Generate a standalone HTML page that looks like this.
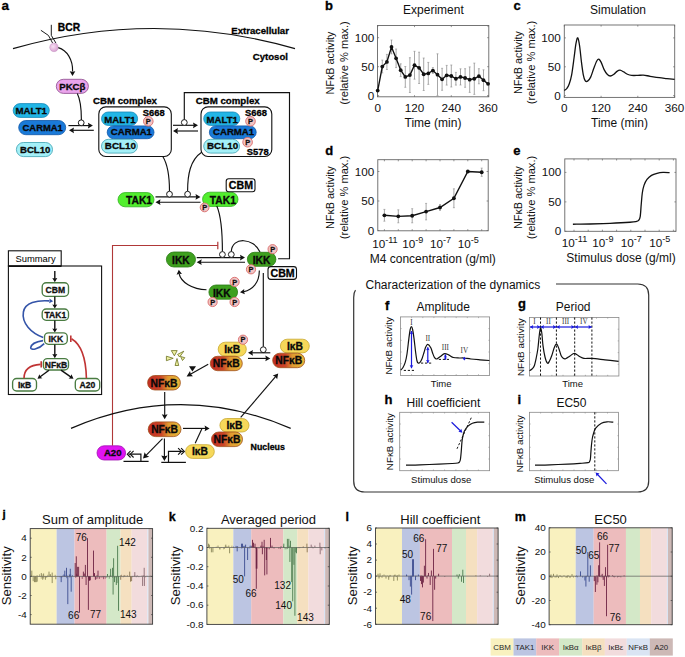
<!DOCTYPE html><html><head><meta charset="utf-8"><style>html,body{margin:0;padding:0;background:#fff;}svg{display:block;}</style></head><body><svg width="685" height="657" viewBox="0 0 685 657">
<defs>
<linearGradient id="nfkb" x1="0" x2="1" y1="0" y2="0">
<stop offset="0" stop-color="#c22c24"/><stop offset="0.4" stop-color="#cc4628"/><stop offset="0.62" stop-color="#de9a30"/><stop offset="1" stop-color="#e8b83a"/></linearGradient>
<radialGradient id="pk" cx="0.4" cy="0.4" r="0.6"><stop offset="0" stop-color="#f8e0f4"/><stop offset="1" stop-color="#d8a0d0"/></radialGradient>
</defs>
<rect width="685" height="657" fill="#fff"/>
<text x="1.4" y="9.9" font-size="13.5" font-weight="bold" text-anchor="start" fill="#000" font-family='"Liberation Sans", sans-serif'  stroke="#000" stroke-width="0.3">a</text>
<path d="M13,48.6 Q154,8.4 295,48.6" stroke="#111" stroke-width="1.15" fill="none" />
<text x="231.3" y="33.7" font-size="9.6" font-weight="bold" text-anchor="start" fill="#000" font-family='"Liberation Sans", sans-serif'  stroke="#000" stroke-width="0.3">Extracellular</text>
<text x="252.8" y="60.3" font-size="9.6" font-weight="bold" text-anchor="start" fill="#000" font-family='"Liberation Sans", sans-serif'  stroke="#000" stroke-width="0.3">Cytosol</text>
<text x="57.8" y="30.8" font-size="10.3" font-weight="bold" text-anchor="start" fill="#000" font-family='"Liberation Sans", sans-serif'  stroke="#000" stroke-width="0.3">BCR</text>
<path d="M40.9,30.3 L48.4,35.4 L52.6,43.0" stroke="#111" stroke-width="0.95" fill="none" />
<path d="M51.3,24.8 L51.3,35.4 L56.0,43.2" stroke="#111" stroke-width="0.95" fill="none" />
<circle cx="54.0" cy="47.4" r="4.3" fill="url(#pk)" stroke="#c090c0" stroke-width="0.4"/>
<path d="M58.3,47.6 C67,50 73,60 72.6,71.5" stroke="#111" stroke-width="1.15" fill="none" />
<path d="M72.50,76.00 L69.70,71.20 L72.50,71.87 L75.30,71.20 Z" fill="#111"/>
<rect x="56.3" y="79.3" width="32.1" height="14.1" rx="7.1" fill="#eaa4ec" stroke="#8a4a8a" stroke-width="0.8"/>
<text x="72.3" y="89.8" font-size="9.6" font-weight="bold" text-anchor="middle" fill="#080808" font-family='"Liberation Sans", sans-serif'  stroke="#080808" stroke-width="0.3">PKCβ</text>
<rect x="13.2" y="103.6" width="36.1" height="13.8" rx="6.9" fill="#22b6e6" stroke="#1488b8" stroke-width="0.8"/>
<text x="31.2" y="114.3" font-size="9.7" font-weight="bold" text-anchor="middle" fill="#080808" font-family='"Liberation Sans", sans-serif'  stroke="#080808" stroke-width="0.3">MALT1</text>
<rect x="18.7" y="120.5" width="47.0" height="14.2" rx="7.1" fill="#1a7ad8" stroke="#1058a8" stroke-width="0.8"/>
<text x="42.7" y="131.3" font-size="9.45" font-weight="bold" text-anchor="middle" fill="#080808" font-family='"Liberation Sans", sans-serif'  stroke="#080808" stroke-width="0.3">CARMA1</text>
<rect x="16.4" y="142.5" width="36.1" height="14.1" rx="7.0" fill="#a4f0f8" stroke="#3aa0b0" stroke-width="0.8"/>
<text x="35.2" y="153.3" font-size="9.65" font-weight="bold" text-anchor="middle" fill="#080808" font-family='"Liberation Sans", sans-serif'  stroke="#080808" stroke-width="0.3">BCL10</text>
<path d="M77.3,93.6 C80.5,100 81.4,110 81.4,119.9" stroke="#111" stroke-width="1.15" fill="none" />
<line x1="68.4" y1="125.6" x2="89.9" y2="125.6" stroke="#111" stroke-width="1.15" />
<path d="M92.90,125.60 L87.90,128.50 L88.60,125.60 L87.90,122.70 Z" fill="#111"/>
<line x1="93.8" y1="130.3" x2="72.0" y2="130.3" stroke="#111" stroke-width="1.15" />
<path d="M69.00,130.30 L74.00,127.40 L73.30,130.30 L74.00,133.20 Z" fill="#111"/>
<circle cx="81.2" cy="122.8" r="2.9" fill="#fff" stroke="#111" stroke-width="0.95"/>
<text x="92.9" y="103.8" font-size="9.7" font-weight="bold" text-anchor="start" fill="#000" font-family='"Liberation Sans", sans-serif'  stroke="#000" stroke-width="0.3">CBM complex</text>
<text x="195.7" y="103.8" font-size="9.7" font-weight="bold" text-anchor="start" fill="#000" font-family='"Liberation Sans", sans-serif'  stroke="#000" stroke-width="0.3">CBM complex</text>
<rect x="98.8" y="106.9" width="72.5" height="49.6" rx="7" fill="#fff" stroke="#111" stroke-width="1.1"/>
<rect x="101.5" y="112.0" width="36.1" height="13.4" rx="6.7" fill="#22b6e6" stroke="#1488b8" stroke-width="0.8"/>
<text x="120.0" y="122.8" font-size="9.6" font-weight="bold" text-anchor="middle" fill="#080808" font-family='"Liberation Sans", sans-serif'  stroke="#080808" stroke-width="0.3">MALT1</text>
<rect x="107.2" y="125.9" width="46.8" height="12.8" rx="6.4" fill="#1a7ad8" stroke="#1058a8" stroke-width="0.8"/>
<text x="131.4" y="135.1" font-size="9.65" font-weight="bold" text-anchor="middle" fill="#080808" font-family='"Liberation Sans", sans-serif'  stroke="#080808" stroke-width="0.3">CARMA1</text>
<rect x="101.5" y="139.3" width="35.9" height="13.8" rx="6.9" fill="#a4f0f8" stroke="#3aa0b0" stroke-width="0.8"/>
<text x="120.4" y="149.3" font-size="9.9" font-weight="bold" text-anchor="middle" fill="#080808" font-family='"Liberation Sans", sans-serif'  stroke="#080808" stroke-width="0.3">BCL10</text>
<text x="142.8" y="115.9" font-size="9.4" font-weight="bold" text-anchor="start" fill="#000" font-family='"Liberation Sans", sans-serif'  stroke="#000" stroke-width="0.3">S668</text>
<circle cx="148.3" cy="121.3" r="4.8" fill="#f2c4c4" stroke="#d86a6a" stroke-width="0.9"/>
<text x="148.3" y="123.9" font-size="7.4" font-weight="bold" text-anchor="middle" fill="#111" font-family='"Liberation Sans", sans-serif'  stroke="#111" stroke-width="0.3">P</text>
<rect x="201.0" y="106.9" width="70.8" height="49.6" rx="7" fill="#fff" stroke="#111" stroke-width="1.1"/>
<rect x="203.7" y="112.0" width="36.1" height="13.4" rx="6.7" fill="#22b6e6" stroke="#1488b8" stroke-width="0.8"/>
<text x="222.2" y="122.8" font-size="9.6" font-weight="bold" text-anchor="middle" fill="#080808" font-family='"Liberation Sans", sans-serif'  stroke="#080808" stroke-width="0.3">MALT1</text>
<rect x="209.4" y="125.9" width="46.8" height="12.8" rx="6.4" fill="#1a7ad8" stroke="#1058a8" stroke-width="0.8"/>
<text x="233.6" y="135.1" font-size="9.65" font-weight="bold" text-anchor="middle" fill="#080808" font-family='"Liberation Sans", sans-serif'  stroke="#080808" stroke-width="0.3">CARMA1</text>
<rect x="203.7" y="139.3" width="35.9" height="13.8" rx="6.9" fill="#a4f0f8" stroke="#3aa0b0" stroke-width="0.8"/>
<text x="222.6" y="149.3" font-size="9.9" font-weight="bold" text-anchor="middle" fill="#080808" font-family='"Liberation Sans", sans-serif'  stroke="#080808" stroke-width="0.3">BCL10</text>
<text x="245.0" y="115.9" font-size="9.4" font-weight="bold" text-anchor="start" fill="#000" font-family='"Liberation Sans", sans-serif'  stroke="#000" stroke-width="0.3">S668</text>
<circle cx="250.5" cy="121.3" r="4.8" fill="#f2c4c4" stroke="#d86a6a" stroke-width="0.9"/>
<text x="250.5" y="123.9" font-size="7.4" font-weight="bold" text-anchor="middle" fill="#111" font-family='"Liberation Sans", sans-serif'  stroke="#111" stroke-width="0.3">P</text>
<circle cx="247.6" cy="142.2" r="4.8" fill="#f2c4c4" stroke="#d86a6a" stroke-width="0.9"/>
<text x="247.6" y="144.8" font-size="7.4" font-weight="bold" text-anchor="middle" fill="#111" font-family='"Liberation Sans", sans-serif'  stroke="#111" stroke-width="0.3">P</text>
<text x="246.8" y="154.9" font-size="9.4" font-weight="bold" text-anchor="start" fill="#000" font-family='"Liberation Sans", sans-serif'  stroke="#000" stroke-width="0.3">S578</text>
<line x1="173.0" y1="125.3" x2="195.0" y2="125.3" stroke="#111" stroke-width="1.15" />
<path d="M198.00,125.30 L193.00,128.20 L193.70,125.30 L193.00,122.40 Z" fill="#111"/>
<line x1="198.0" y1="131.0" x2="176.0" y2="131.0" stroke="#111" stroke-width="1.15" />
<path d="M173.00,131.00 L178.00,128.10 L177.30,131.00 L178.00,133.90 Z" fill="#111"/>
<path d="M184.3,120 L184.3,92.6 L289.5,92.6 L289.5,258.7 L278.1,258.7" stroke="#111" stroke-width="1.15" fill="none" />
<circle cx="184.3" cy="122.5" r="2.9" fill="#fff" stroke="#111" stroke-width="0.95"/>
<path d="M162.8,156.5 C168,165 169.5,178 169.5,191.2" stroke="#111" stroke-width="1.15" fill="none" />
<path d="M202,152 C190,160 187.6,175 187.6,191.2" stroke="#111" stroke-width="1.15" fill="none" />
<line x1="155.5" y1="196.9" x2="197.5" y2="196.9" stroke="#111" stroke-width="1.15" />
<path d="M200.50,196.90 L195.50,199.80 L196.20,196.90 L195.50,194.00 Z" fill="#111"/>
<line x1="200.5" y1="202.2" x2="158.5" y2="202.2" stroke="#111" stroke-width="1.15" />
<path d="M155.50,202.20 L160.50,199.30 L159.80,202.20 L160.50,205.10 Z" fill="#111"/>
<circle cx="169.5" cy="194.2" r="2.9" fill="#fff" stroke="#111" stroke-width="0.95"/>
<circle cx="187.6" cy="194.2" r="2.9" fill="#fff" stroke="#111" stroke-width="0.95"/>
<rect x="118.0" y="192.6" width="36.0" height="14.2" rx="7.1" fill="#52ee2e" stroke="#30b020" stroke-width="0.8"/>
<text x="139.0" y="204.2" font-size="10.3" font-weight="bold" text-anchor="middle" fill="#080808" font-family='"Liberation Sans", sans-serif'  stroke="#080808" stroke-width="0.3">TAK1</text>
<rect x="202.6" y="192.2" width="35.4" height="14.2" rx="7.1" fill="#52ee2e" stroke="#30b020" stroke-width="0.8"/>
<text x="222.8" y="203.8" font-size="10.3" font-weight="bold" text-anchor="middle" fill="#080808" font-family='"Liberation Sans", sans-serif'  stroke="#080808" stroke-width="0.3">TAK1</text>
<circle cx="204.6" cy="207.4" r="4.4" fill="#f2c4c4" stroke="#d86a6a" stroke-width="0.9"/>
<text x="204.6" y="210.0" font-size="7.4" font-weight="bold" text-anchor="middle" fill="#111" font-family='"Liberation Sans", sans-serif'  stroke="#111" stroke-width="0.3">P</text>
<rect x="226.2" y="178.8" width="28.8" height="13.0" rx="2.5" fill="#fff" stroke="#111" stroke-width="1.1"/>
<text x="240.9" y="189.3" font-size="10.6" font-weight="bold" text-anchor="middle" fill="#000" font-family='"Liberation Sans", sans-serif'  stroke="#000" stroke-width="0.3">CBM</text>
<path d="M216.8,206 C222,218 222.4,235 222.4,251.6" stroke="#111" stroke-width="1.15" fill="none" />
<path d="M112.5,445.8 L112.5,245.5 L217.8,245.5" stroke="#b03838" stroke-width="1.1" fill="none" />
<line x1="217.8" y1="241.8" x2="217.8" y2="249.2" stroke="#b03838" stroke-width="1.2" />
<line x1="196.7" y1="257.6" x2="242.0" y2="257.6" stroke="#111" stroke-width="1.15" />
<path d="M245.00,257.60 L240.00,260.50 L240.70,257.60 L240.00,254.70 Z" fill="#111"/>
<line x1="245.0" y1="262.2" x2="199.7" y2="262.2" stroke="#111" stroke-width="1.15" />
<path d="M196.70,262.20 L201.70,259.30 L201.00,262.20 L201.70,265.10 Z" fill="#111"/>
<path d="M260,252 C254,238 232,236 231.3,251.6" stroke="#111" stroke-width="1.15" fill="none" />
<circle cx="222.4" cy="254.5" r="2.9" fill="#fff" stroke="#111" stroke-width="0.95"/>
<circle cx="231.3" cy="254.5" r="2.9" fill="#fff" stroke="#111" stroke-width="0.95"/>
<rect x="166.4" y="252.0" width="29.1" height="15.0" rx="7.5" fill="#3ea01e" stroke="#2a7a14" stroke-width="0.8"/>
<text x="180.9" y="264.0" font-size="10.3" font-weight="bold" text-anchor="middle" fill="#080808" font-family='"Liberation Sans", sans-serif'  stroke="#080808" stroke-width="0.3">IKK</text>
<rect x="247.4" y="252.3" width="28.5" height="14.0" rx="7.0" fill="#3ea01e" stroke="#2a7a14" stroke-width="0.8"/>
<text x="261.6" y="263.8" font-size="10.3" font-weight="bold" text-anchor="middle" fill="#080808" font-family='"Liberation Sans", sans-serif'  stroke="#080808" stroke-width="0.3">IKK</text>
<circle cx="272.6" cy="249.2" r="4.6" fill="#f2c4c4" stroke="#d86a6a" stroke-width="0.9"/>
<text x="272.6" y="251.8" font-size="7.4" font-weight="bold" text-anchor="middle" fill="#111" font-family='"Liberation Sans", sans-serif'  stroke="#111" stroke-width="0.3">P</text>
<circle cx="251.0" cy="269.3" r="4.6" fill="#f2c4c4" stroke="#d86a6a" stroke-width="0.9"/>
<text x="251.0" y="271.9" font-size="7.4" font-weight="bold" text-anchor="middle" fill="#111" font-family='"Liberation Sans", sans-serif'  stroke="#111" stroke-width="0.3">P</text>
<rect x="268" y="266.6" width="28.5" height="12.8" rx="2.8" fill="#fff" stroke="#111" stroke-width="1.1"/>
<text x="282.6" y="276.7" font-size="10.6" font-weight="bold" text-anchor="middle" fill="#000" font-family='"Liberation Sans", sans-serif'  stroke="#000" stroke-width="0.3">CBM</text>
<path d="M259.3,270.5 C259.5,283 252,290 244,291.6" stroke="#111" stroke-width="1.15" fill="none" />
<path d="M240.00,292.20 L244.25,288.97 L243.93,291.73 L244.89,294.33 Z" fill="#111"/>
<path d="M206.5,289.8 C192,289.5 181,282 179.2,274" stroke="#111" stroke-width="1.15" fill="none" />
<path d="M178.80,269.80 L181.94,274.11 L179.19,273.74 L176.57,274.65 Z" fill="#111"/>
<rect x="208.9" y="285.0" width="28.7" height="14.2" rx="7.1" fill="#3ea01e" stroke="#2a7a14" stroke-width="0.8"/>
<text x="221.8" y="296.6" font-size="10.3" font-weight="bold" text-anchor="middle" fill="#080808" font-family='"Liberation Sans", sans-serif'  stroke="#080808" stroke-width="0.3">IKK</text>
<circle cx="234.6" cy="281.9" r="4.6" fill="#f2c4c4" stroke="#d86a6a" stroke-width="0.9"/>
<text x="234.6" y="284.5" font-size="7.4" font-weight="bold" text-anchor="middle" fill="#111" font-family='"Liberation Sans", sans-serif'  stroke="#111" stroke-width="0.3">P</text>
<circle cx="212.6" cy="302.0" r="4.6" fill="#f2c4c4" stroke="#d86a6a" stroke-width="0.9"/>
<text x="212.6" y="304.6" font-size="7.4" font-weight="bold" text-anchor="middle" fill="#111" font-family='"Liberation Sans", sans-serif'  stroke="#111" stroke-width="0.3">P</text>
<circle cx="234.6" cy="302.0" r="4.6" fill="#f2c4c4" stroke="#d86a6a" stroke-width="0.9"/>
<text x="234.6" y="304.6" font-size="7.4" font-weight="bold" text-anchor="middle" fill="#111" font-family='"Liberation Sans", sans-serif'  stroke="#111" stroke-width="0.3">P</text>
<line x1="263.3" y1="273.0" x2="263.3" y2="346.8" stroke="#111" stroke-width="1.15" />
<circle cx="263.3" cy="349.7" r="2.9" fill="#fff" stroke="#111" stroke-width="0.95"/>
<line x1="270.3" y1="352.8" x2="251.0" y2="352.8" stroke="#111" stroke-width="1.15" />
<path d="M248.00,352.80 L253.00,349.90 L252.30,352.80 L253.00,355.70 Z" fill="#111"/>
<line x1="248.0" y1="358.4" x2="267.3" y2="358.4" stroke="#111" stroke-width="1.15" />
<path d="M270.30,358.40 L265.30,361.30 L266.00,358.40 L265.30,355.50 Z" fill="#111"/>
<rect x="218.2" y="342.2" width="28.1" height="14.1" rx="7.1" fill="#f6d85a" stroke="#c8a830" stroke-width="0.8"/>
<text x="232.2" y="353.0" font-size="10.3" font-weight="bold" text-anchor="middle" fill="#080808" font-family='"Liberation Sans", sans-serif'  stroke="#080808" stroke-width="0.3">IκB</text>
<rect x="210.3" y="356.3" width="32.0" height="14.4" rx="7.2" fill="url(#nfkb)" stroke="#a0501c" stroke-width="0.8"/>
<text x="226.3" y="367.2" font-size="10.3" font-weight="bold" text-anchor="middle" fill="#080808" font-family='"Liberation Sans", sans-serif'  stroke="#080808" stroke-width="0.3">NFκB</text>
<circle cx="243.0" cy="339.7" r="4.6" fill="#f2c4c4" stroke="#d86a6a" stroke-width="0.9"/>
<text x="243.0" y="342.3" font-size="7.4" font-weight="bold" text-anchor="middle" fill="#111" font-family='"Liberation Sans", sans-serif'  stroke="#111" stroke-width="0.3">P</text>
<rect x="280.4" y="339.2" width="28.9" height="13.7" rx="6.8" fill="#f6d85a" stroke="#c8a830" stroke-width="0.8"/>
<text x="294.9" y="349.8" font-size="10.3" font-weight="bold" text-anchor="middle" fill="#080808" font-family='"Liberation Sans", sans-serif'  stroke="#080808" stroke-width="0.3">IκB</text>
<rect x="272.7" y="353.2" width="32.0" height="14.5" rx="7.2" fill="url(#nfkb)" stroke="#a0501c" stroke-width="0.8"/>
<text x="288.7" y="364.2" font-size="10.3" font-weight="bold" text-anchor="middle" fill="#080808" font-family='"Liberation Sans", sans-serif'  stroke="#080808" stroke-width="0.3">NFκB</text>
<line x1="208.2" y1="364.2" x2="189.5" y2="374.7" stroke="#111" stroke-width="1.15" />
<path d="M186.60,376.40 L190.00,371.03 L190.79,374.03 L192.95,376.26 Z" fill="#111"/>
<path d="M189.0,366.3 L196.0,366.3 L192.4,371.4 Z" fill="#111"/>
<path d="M166.4,356.2 L166.4,360.7 L173.2,358.3 Z M171.3,350.6 L177.2,350.6 L174.4,355.8 Z M177.6,354.4 L179.6,357.0 L183.8,351.2 Z M180.6,356.5 L184.8,357.7 L182.5,360.5 Z M175.1,365.5 L178.7,365.5 L177.0,358.5 Z" fill="#eef0a0" stroke="#6a7020" stroke-width="0.8"/>
<rect x="147.6" y="375.5" width="32.8" height="14.5" rx="7.2" fill="url(#nfkb)" stroke="#a0501c" stroke-width="0.8"/>
<text x="164.0" y="386.5" font-size="10.3" font-weight="bold" text-anchor="middle" fill="#080808" font-family='"Liberation Sans", sans-serif'  stroke="#080808" stroke-width="0.3">NFκB</text>
<line x1="240.7" y1="417.4" x2="276.2" y2="375.9" stroke="#111" stroke-width="1.15" />
<path d="M278.20,373.60 L277.15,379.28 L275.40,376.87 L272.75,375.51 Z" fill="#111"/>
<path d="M71,428.4 Q180.8,381 290.7,428.4" stroke="#111" stroke-width="1.15" fill="none" />
<text x="250.6" y="450.3" font-size="8.8" font-weight="bold" text-anchor="start" fill="#000" font-family='"Liberation Sans", sans-serif'  stroke="#000" stroke-width="0.3">Nucleus</text>
<line x1="164.7" y1="392.0" x2="164.7" y2="416.2" stroke="#111" stroke-width="1.15" />
<path d="M164.70,419.20 L161.80,414.20 L164.70,414.90 L167.60,414.20 Z" fill="#111"/>
<rect x="148.2" y="421.9" width="32.8" height="14.7" rx="7.4" fill="url(#nfkb)" stroke="#a0501c" stroke-width="0.8"/>
<text x="164.6" y="433.0" font-size="10.3" font-weight="bold" text-anchor="middle" fill="#080808" font-family='"Liberation Sans", sans-serif'  stroke="#080808" stroke-width="0.3">NFκB</text>
<line x1="183.0" y1="428.4" x2="206.6" y2="428.4" stroke="#111" stroke-width="1.15" />
<path d="M209.60,428.40 L204.60,431.30 L205.30,428.40 L204.60,425.50 Z" fill="#111"/>
<line x1="195.2" y1="443.2" x2="202.0" y2="428.6" stroke="#111" stroke-width="1.15" />
<rect x="219.9" y="418.5" width="29.1" height="13.5" rx="6.8" fill="#f6d85a" stroke="#c8a830" stroke-width="0.8"/>
<text x="234.4" y="429.0" font-size="10.3" font-weight="bold" text-anchor="middle" fill="#080808" font-family='"Liberation Sans", sans-serif'  stroke="#080808" stroke-width="0.3">IκB</text>
<rect x="211.5" y="432.0" width="31.0" height="14.6" rx="7.3" fill="url(#nfkb)" stroke="#a0501c" stroke-width="0.8"/>
<text x="227.0" y="443.0" font-size="10.3" font-weight="bold" text-anchor="middle" fill="#080808" font-family='"Liberation Sans", sans-serif'  stroke="#080808" stroke-width="0.3">NFκB</text>
<rect x="185.6" y="444.7" width="28.7" height="13.7" rx="6.8" fill="#f6d85a" stroke="#c8a830" stroke-width="0.8"/>
<text x="199.9" y="455.3" font-size="10.3" font-weight="bold" text-anchor="middle" fill="#080808" font-family='"Liberation Sans", sans-serif'  stroke="#080808" stroke-width="0.3">IκB</text>
<rect x="97.0" y="445.8" width="28.6" height="14.2" rx="7.1" fill="#e014f2" stroke="#a010b0" stroke-width="0.8"/>
<text x="112.7" y="456.4" font-size="9.6" font-weight="bold" text-anchor="middle" fill="#080808" font-family='"Liberation Sans", sans-serif'  stroke="#080808" stroke-width="0.3">A20</text>
<line x1="123.5" y1="461.4" x2="148.6" y2="461.4" stroke="#111" stroke-width="1.25" />
<path d="M140.9,461.4 L140.9,454.2 L128.6,454.2" stroke="#111" stroke-width="1.2" fill="none" />
<path d="M130.6,450.9 L127.3,454.2 L130.6,457.5 M133.6,450.9 L130.3,454.2 L133.6,457.5" stroke="#111" stroke-width="1.1" fill="none" />
<line x1="161.3" y1="462.4" x2="185.9" y2="462.4" stroke="#111" stroke-width="1.25" />
<path d="M168.5,462.4 L168.5,451.4 L183.6,451.4" stroke="#111" stroke-width="1.2" fill="none" />
<path d="M181.1,448.1 L184.4,451.4 L181.1,454.7 M178.1,448.1 L181.4,451.4 L178.1,454.7" stroke="#111" stroke-width="1.1" fill="none" />
<line x1="162.5" y1="438.6" x2="145.3" y2="456.2" stroke="#111" stroke-width="1.15" />
<path d="M143.00,458.60 L144.62,452.36 L146.36,455.15 L149.20,456.82 Z" fill="#111"/>
<line x1="164.4" y1="438.6" x2="164.4" y2="457.6" stroke="#111" stroke-width="1.15" />
<path d="M164.40,461.00 L161.20,455.40 L164.40,456.18 L167.60,455.40 Z" fill="#111"/>
<rect x="8.4" y="266.0" width="93.2" height="128.5" fill="#fff" stroke="#111" stroke-width="1.1"/>
<rect x="8.4" y="250.8" width="52.8" height="15.2" fill="#fff" stroke="#111" stroke-width="1.1"/>
<line x1="8.4" y1="266.2" x2="61.2" y2="266.2" stroke="#111" stroke-width="1.8" />
<text x="35.6" y="262.2" font-size="9.4" font-weight="normal" text-anchor="middle" fill="#000" font-family='"Liberation Sans", sans-serif' >Summary</text>
<line x1="54.8" y1="271.0" x2="54.8" y2="279.7" stroke="#111" stroke-width="1.4" />
<path d="M54.80,282.20 L52.30,278.00 L54.80,278.59 L57.30,278.00 Z" fill="#111"/>
<rect x="42.2" y="282.7" width="26.3" height="13.6" rx="4" fill="#fff" stroke="#4a7c42" stroke-width="1.35"/>
<text x="55.4" y="292.7" font-size="8.6" font-weight="bold" text-anchor="middle" fill="#111" font-family='"Liberation Sans", sans-serif'  stroke="#111" stroke-width="0.3">CBM</text>
<line x1="54.8" y1="296.5" x2="54.8" y2="306.1" stroke="#111" stroke-width="1.4" />
<path d="M54.80,308.60 L52.30,304.40 L54.80,304.99 L57.30,304.40 Z" fill="#111"/>
<rect x="42.2" y="309.0" width="26.3" height="11.3" rx="4" fill="#fff" stroke="#4a7c42" stroke-width="1.35"/>
<text x="55.4" y="317.8" font-size="8.6" font-weight="bold" text-anchor="middle" fill="#111" font-family='"Liberation Sans", sans-serif'  stroke="#111" stroke-width="0.3">TAK1</text>
<line x1="54.8" y1="320.5" x2="54.8" y2="330.1" stroke="#111" stroke-width="1.4" />
<path d="M54.80,332.60 L52.30,328.40 L54.80,328.99 L57.30,328.40 Z" fill="#111"/>
<rect x="44.5" y="332.9" width="22.8" height="11.4" rx="4" fill="#fff" stroke="#4a7c42" stroke-width="1.35"/>
<text x="55.9" y="341.8" font-size="8.6" font-weight="bold" text-anchor="middle" fill="#111" font-family='"Liberation Sans", sans-serif'  stroke="#111" stroke-width="0.3">IKK</text>
<line x1="54.8" y1="344.5" x2="54.8" y2="355.7" stroke="#111" stroke-width="1.4" />
<path d="M54.80,358.20 L52.30,354.00 L54.80,354.59 L57.30,354.00 Z" fill="#111"/>
<rect x="43.4" y="358.6" width="25.1" height="11.4" rx="4" fill="#fff" stroke="#4a7c42" stroke-width="1.35"/>
<text x="56.0" y="367.5" font-size="8.6" font-weight="bold" text-anchor="middle" fill="#111" font-family='"Liberation Sans", sans-serif'  stroke="#111" stroke-width="0.3">NFκB</text>
<rect x="12.6" y="378.5" width="23.9" height="12.5" rx="4" fill="#fff" stroke="#4a7c42" stroke-width="1.35"/>
<text x="24.6" y="387.9" font-size="8.6" font-weight="bold" text-anchor="middle" fill="#111" font-family='"Liberation Sans", sans-serif'  stroke="#111" stroke-width="0.3">IκB</text>
<rect x="75.3" y="378.5" width="24.4" height="12.5" rx="4" fill="#fff" stroke="#4a7c42" stroke-width="1.35"/>
<text x="87.5" y="387.9" font-size="8.6" font-weight="bold" text-anchor="middle" fill="#111" font-family='"Liberation Sans", sans-serif'  stroke="#111" stroke-width="0.3">A20</text>
<line x1="49.0" y1="370.2" x2="39.5" y2="377.3" stroke="#111" stroke-width="1.4" />
<path d="M37.50,378.80 L39.37,374.28 L40.39,376.64 L42.36,378.29 Z" fill="#111"/>
<line x1="61.0" y1="370.2" x2="71.4" y2="377.4" stroke="#111" stroke-width="1.4" />
<path d="M73.50,378.80 L68.62,378.48 L70.52,376.75 L71.46,374.36 Z" fill="#111"/>
<path d="M43.2,337.4 C31,333 21.5,323 23.4,312 C25,302.5 37,300 49.5,300.9" stroke="#3454a8" stroke-width="1.6" fill="none" />
<path d="M53.20,301.20 L49.02,303.27 L49.77,300.93 L49.40,298.49 Z" fill="#3454a8"/>
<path d="M43,340.6 C37,341.5 31.2,344 30.7,347.6 C30.4,350.6 38.5,349.6 44.2,343.6" stroke="#3454a8" stroke-width="1.6" fill="none" />
<path d="M24,378.3 C24,370 30,365 40.5,364.4" stroke="#c03434" stroke-width="1.6" fill="none" />
<line x1="41.2" y1="361.2" x2="41.2" y2="367.6" stroke="#c03434" stroke-width="1.6" />
<path d="M86.4,378.3 C86,360 82,345 71.5,338.8" stroke="#c03434" stroke-width="1.6" fill="none" />
<line x1="70.8" y1="335.6" x2="70.8" y2="342.0" stroke="#c03434" stroke-width="1.6" />
<text x="325.0" y="9.6" font-size="13" font-weight="bold" text-anchor="start" fill="#000" font-family='"Liberation Sans", sans-serif'  stroke="#000" stroke-width="0.3">b</text>
<text x="433.4" y="14.3" font-size="12" font-weight="normal" text-anchor="middle" fill="#111" font-family='"Liberation Sans", sans-serif' >Experiment</text>
<rect x="377.5" y="25.5" width="111.3" height="71.3" fill="none" stroke="#666" stroke-width="0.9"/>
<text x="374.2" y="99.7" font-size="11.7" font-weight="normal" text-anchor="end" fill="#111" font-family='"Liberation Sans", sans-serif' >0</text>
<line x1="377.5" y1="95.7" x2="379.1" y2="95.7" stroke="#666" stroke-width="0.7" />
<line x1="487.2" y1="95.7" x2="488.8" y2="95.7" stroke="#666" stroke-width="0.7" />
<text x="374.2" y="70.7" font-size="11.7" font-weight="normal" text-anchor="end" fill="#111" font-family='"Liberation Sans", sans-serif' >50</text>
<line x1="377.5" y1="66.7" x2="379.1" y2="66.7" stroke="#666" stroke-width="0.7" />
<line x1="487.2" y1="66.7" x2="488.8" y2="66.7" stroke="#666" stroke-width="0.7" />
<text x="374.2" y="41.7" font-size="11.7" font-weight="normal" text-anchor="end" fill="#111" font-family='"Liberation Sans", sans-serif' >100</text>
<line x1="377.5" y1="37.7" x2="379.1" y2="37.7" stroke="#666" stroke-width="0.7" />
<line x1="487.2" y1="37.7" x2="488.8" y2="37.7" stroke="#666" stroke-width="0.7" />
<text x="377.7" y="111.6" font-size="11.7" font-weight="normal" text-anchor="middle" fill="#111" font-family='"Liberation Sans", sans-serif' >0</text>
<line x1="377.7" y1="96.8" x2="377.7" y2="95.2" stroke="#666" stroke-width="0.7" />
<line x1="377.7" y1="25.5" x2="377.7" y2="27.1" stroke="#666" stroke-width="0.7" />
<text x="414.5" y="111.6" font-size="11.7" font-weight="normal" text-anchor="middle" fill="#111" font-family='"Liberation Sans", sans-serif' >120</text>
<line x1="414.5" y1="96.8" x2="414.5" y2="95.2" stroke="#666" stroke-width="0.7" />
<line x1="414.5" y1="25.5" x2="414.5" y2="27.1" stroke="#666" stroke-width="0.7" />
<text x="451.3" y="111.6" font-size="11.7" font-weight="normal" text-anchor="middle" fill="#111" font-family='"Liberation Sans", sans-serif' >240</text>
<line x1="451.3" y1="96.8" x2="451.3" y2="95.2" stroke="#666" stroke-width="0.7" />
<line x1="451.3" y1="25.5" x2="451.3" y2="27.1" stroke="#666" stroke-width="0.7" />
<text x="488.1" y="111.6" font-size="11.7" font-weight="normal" text-anchor="middle" fill="#111" font-family='"Liberation Sans", sans-serif' >360</text>
<line x1="488.1" y1="96.8" x2="488.1" y2="95.2" stroke="#666" stroke-width="0.7" />
<line x1="488.1" y1="25.5" x2="488.1" y2="27.1" stroke="#666" stroke-width="0.7" />
<text x="433.0" y="126.5" font-size="12" font-weight="normal" text-anchor="middle" fill="#111" font-family='"Liberation Sans", sans-serif' >Time (min)</text>
<text transform="translate(334.4,63.0) rotate(-90)" font-size="10.8" text-anchor="middle" font-family='"Liberation Sans", sans-serif' fill="#111">NFκB activity</text>
<text transform="translate(347.6,63.0) rotate(-90)" font-size="11.12" text-anchor="middle" font-family='"Liberation Sans", sans-serif' fill="#111">(relative % max.)</text>
<line x1="382.3" y1="60.1" x2="382.3" y2="72.9" stroke="#8a8a8a" stroke-width="0.75" />
<line x1="381.3" y1="60.1" x2="383.3" y2="60.1" stroke="#8a8a8a" stroke-width="0.6" />
<line x1="381.3" y1="72.9" x2="383.3" y2="72.9" stroke="#8a8a8a" stroke-width="0.6" />
<line x1="386.9" y1="54.4" x2="386.9" y2="69.5" stroke="#8a8a8a" stroke-width="0.75" />
<line x1="385.9" y1="54.4" x2="387.9" y2="54.4" stroke="#8a8a8a" stroke-width="0.6" />
<line x1="385.9" y1="69.5" x2="387.9" y2="69.5" stroke="#8a8a8a" stroke-width="0.6" />
<line x1="391.5" y1="40.0" x2="391.5" y2="53.9" stroke="#8a8a8a" stroke-width="0.75" />
<line x1="390.5" y1="40.0" x2="392.5" y2="40.0" stroke="#8a8a8a" stroke-width="0.6" />
<line x1="390.5" y1="53.9" x2="392.5" y2="53.9" stroke="#8a8a8a" stroke-width="0.6" />
<line x1="396.1" y1="49.0" x2="396.1" y2="67.6" stroke="#8a8a8a" stroke-width="0.75" />
<line x1="395.1" y1="49.0" x2="397.1" y2="49.0" stroke="#8a8a8a" stroke-width="0.6" />
<line x1="395.1" y1="67.6" x2="397.1" y2="67.6" stroke="#8a8a8a" stroke-width="0.6" />
<line x1="400.7" y1="63.8" x2="400.7" y2="76.6" stroke="#8a8a8a" stroke-width="0.75" />
<line x1="399.7" y1="63.8" x2="401.7" y2="63.8" stroke="#8a8a8a" stroke-width="0.6" />
<line x1="399.7" y1="76.6" x2="401.7" y2="76.6" stroke="#8a8a8a" stroke-width="0.6" />
<line x1="405.3" y1="66.5" x2="405.3" y2="87.3" stroke="#8a8a8a" stroke-width="0.75" />
<line x1="404.3" y1="66.5" x2="406.3" y2="66.5" stroke="#8a8a8a" stroke-width="0.6" />
<line x1="404.3" y1="87.3" x2="406.3" y2="87.3" stroke="#8a8a8a" stroke-width="0.6" />
<line x1="409.9" y1="57.7" x2="409.9" y2="92.5" stroke="#8a8a8a" stroke-width="0.75" />
<line x1="408.9" y1="57.7" x2="410.9" y2="57.7" stroke="#8a8a8a" stroke-width="0.6" />
<line x1="408.9" y1="92.5" x2="410.9" y2="92.5" stroke="#8a8a8a" stroke-width="0.6" />
<line x1="414.5" y1="51.3" x2="414.5" y2="79.2" stroke="#8a8a8a" stroke-width="0.75" />
<line x1="413.5" y1="51.3" x2="415.5" y2="51.3" stroke="#8a8a8a" stroke-width="0.6" />
<line x1="413.5" y1="79.2" x2="415.5" y2="79.2" stroke="#8a8a8a" stroke-width="0.6" />
<line x1="419.1" y1="52.2" x2="419.1" y2="83.5" stroke="#8a8a8a" stroke-width="0.75" />
<line x1="418.1" y1="52.2" x2="420.1" y2="52.2" stroke="#8a8a8a" stroke-width="0.6" />
<line x1="418.1" y1="83.5" x2="420.1" y2="83.5" stroke="#8a8a8a" stroke-width="0.6" />
<line x1="423.7" y1="58.0" x2="423.7" y2="90.5" stroke="#8a8a8a" stroke-width="0.75" />
<line x1="422.7" y1="58.0" x2="424.7" y2="58.0" stroke="#8a8a8a" stroke-width="0.6" />
<line x1="422.7" y1="90.5" x2="424.7" y2="90.5" stroke="#8a8a8a" stroke-width="0.6" />
<line x1="428.3" y1="62.4" x2="428.3" y2="84.4" stroke="#8a8a8a" stroke-width="0.75" />
<line x1="427.3" y1="62.4" x2="429.3" y2="62.4" stroke="#8a8a8a" stroke-width="0.6" />
<line x1="427.3" y1="84.4" x2="429.3" y2="84.4" stroke="#8a8a8a" stroke-width="0.6" />
<line x1="432.9" y1="67.6" x2="432.9" y2="73.4" stroke="#8a8a8a" stroke-width="0.75" />
<line x1="431.9" y1="67.6" x2="433.9" y2="67.6" stroke="#8a8a8a" stroke-width="0.6" />
<line x1="431.9" y1="73.4" x2="433.9" y2="73.4" stroke="#8a8a8a" stroke-width="0.6" />
<line x1="437.5" y1="53.8" x2="437.5" y2="95.6" stroke="#8a8a8a" stroke-width="0.75" />
<line x1="436.5" y1="53.8" x2="438.5" y2="53.8" stroke="#8a8a8a" stroke-width="0.6" />
<line x1="436.5" y1="95.6" x2="438.5" y2="95.6" stroke="#8a8a8a" stroke-width="0.6" />
<line x1="442.1" y1="68.3" x2="442.1" y2="90.3" stroke="#8a8a8a" stroke-width="0.75" />
<line x1="441.1" y1="68.3" x2="443.1" y2="68.3" stroke="#8a8a8a" stroke-width="0.6" />
<line x1="441.1" y1="90.3" x2="443.1" y2="90.3" stroke="#8a8a8a" stroke-width="0.6" />
<line x1="446.7" y1="65.4" x2="446.7" y2="85.1" stroke="#8a8a8a" stroke-width="0.75" />
<line x1="445.7" y1="65.4" x2="447.7" y2="65.4" stroke="#8a8a8a" stroke-width="0.6" />
<line x1="445.7" y1="85.1" x2="447.7" y2="85.1" stroke="#8a8a8a" stroke-width="0.6" />
<line x1="451.3" y1="65.0" x2="451.3" y2="87.0" stroke="#8a8a8a" stroke-width="0.75" />
<line x1="450.3" y1="65.0" x2="452.3" y2="65.0" stroke="#8a8a8a" stroke-width="0.6" />
<line x1="450.3" y1="87.0" x2="452.3" y2="87.0" stroke="#8a8a8a" stroke-width="0.6" />
<line x1="455.9" y1="72.4" x2="455.9" y2="85.1" stroke="#8a8a8a" stroke-width="0.75" />
<line x1="454.9" y1="72.4" x2="456.9" y2="72.4" stroke="#8a8a8a" stroke-width="0.6" />
<line x1="454.9" y1="85.1" x2="456.9" y2="85.1" stroke="#8a8a8a" stroke-width="0.6" />
<line x1="460.5" y1="68.8" x2="460.5" y2="85.0" stroke="#8a8a8a" stroke-width="0.75" />
<line x1="459.5" y1="68.8" x2="461.5" y2="68.8" stroke="#8a8a8a" stroke-width="0.6" />
<line x1="459.5" y1="85.0" x2="461.5" y2="85.0" stroke="#8a8a8a" stroke-width="0.6" />
<line x1="465.1" y1="68.7" x2="465.1" y2="87.3" stroke="#8a8a8a" stroke-width="0.75" />
<line x1="464.1" y1="68.7" x2="466.1" y2="68.7" stroke="#8a8a8a" stroke-width="0.6" />
<line x1="464.1" y1="87.3" x2="466.1" y2="87.3" stroke="#8a8a8a" stroke-width="0.6" />
<line x1="469.7" y1="66.9" x2="469.7" y2="92.4" stroke="#8a8a8a" stroke-width="0.75" />
<line x1="468.7" y1="66.9" x2="470.7" y2="66.9" stroke="#8a8a8a" stroke-width="0.6" />
<line x1="468.7" y1="92.4" x2="470.7" y2="92.4" stroke="#8a8a8a" stroke-width="0.6" />
<line x1="474.3" y1="63.1" x2="474.3" y2="94.4" stroke="#8a8a8a" stroke-width="0.75" />
<line x1="473.3" y1="63.1" x2="475.3" y2="63.1" stroke="#8a8a8a" stroke-width="0.6" />
<line x1="473.3" y1="94.4" x2="475.3" y2="94.4" stroke="#8a8a8a" stroke-width="0.6" />
<line x1="478.9" y1="68.7" x2="478.9" y2="83.8" stroke="#8a8a8a" stroke-width="0.75" />
<line x1="477.9" y1="68.7" x2="479.9" y2="68.7" stroke="#8a8a8a" stroke-width="0.6" />
<line x1="477.9" y1="83.8" x2="479.9" y2="83.8" stroke="#8a8a8a" stroke-width="0.6" />
<line x1="483.5" y1="69.8" x2="483.5" y2="90.7" stroke="#8a8a8a" stroke-width="0.75" />
<line x1="482.5" y1="69.8" x2="484.5" y2="69.8" stroke="#8a8a8a" stroke-width="0.6" />
<line x1="482.5" y1="90.7" x2="484.5" y2="90.7" stroke="#8a8a8a" stroke-width="0.6" />
<polyline points="377.70,90.60 382.30,66.53 386.90,61.94 391.50,46.98 396.10,58.29 400.69,70.18 405.29,76.91 409.89,75.11 414.49,65.25 419.09,67.86 423.69,74.24 428.29,73.43 432.89,70.53 437.49,74.70 442.09,79.29 446.69,75.28 451.28,75.98 455.88,78.76 460.48,76.91 465.08,78.01 469.68,79.63 474.28,78.76 478.88,76.21 483.48,80.21 488.08,83.87" fill="none" stroke="#111" stroke-width="1.4"/>
<circle cx="377.70" cy="90.60" r="1.9" fill="#111"/>
<circle cx="382.30" cy="66.53" r="1.9" fill="#111"/>
<circle cx="386.90" cy="61.94" r="1.9" fill="#111"/>
<circle cx="391.50" cy="46.98" r="1.9" fill="#111"/>
<circle cx="396.10" cy="58.29" r="1.9" fill="#111"/>
<circle cx="400.69" cy="70.18" r="1.9" fill="#111"/>
<circle cx="405.29" cy="76.91" r="1.9" fill="#111"/>
<circle cx="409.89" cy="75.11" r="1.9" fill="#111"/>
<circle cx="414.49" cy="65.25" r="1.9" fill="#111"/>
<circle cx="419.09" cy="67.86" r="1.9" fill="#111"/>
<circle cx="423.69" cy="74.24" r="1.9" fill="#111"/>
<circle cx="428.29" cy="73.43" r="1.9" fill="#111"/>
<circle cx="432.89" cy="70.53" r="1.9" fill="#111"/>
<circle cx="437.49" cy="74.70" r="1.9" fill="#111"/>
<circle cx="442.09" cy="79.29" r="1.9" fill="#111"/>
<circle cx="446.69" cy="75.28" r="1.9" fill="#111"/>
<circle cx="451.28" cy="75.98" r="1.9" fill="#111"/>
<circle cx="455.88" cy="78.76" r="1.9" fill="#111"/>
<circle cx="460.48" cy="76.91" r="1.9" fill="#111"/>
<circle cx="465.08" cy="78.01" r="1.9" fill="#111"/>
<circle cx="469.68" cy="79.63" r="1.9" fill="#111"/>
<circle cx="474.28" cy="78.76" r="1.9" fill="#111"/>
<circle cx="478.88" cy="76.21" r="1.9" fill="#111"/>
<circle cx="483.48" cy="80.21" r="1.9" fill="#111"/>
<circle cx="488.08" cy="83.87" r="1.9" fill="#111"/>
<text x="513.5" y="9.9" font-size="13" font-weight="bold" text-anchor="start" fill="#000" font-family='"Liberation Sans", sans-serif'  stroke="#000" stroke-width="0.3">c</text>
<text x="618.0" y="14.0" font-size="12" font-weight="normal" text-anchor="middle" fill="#111" font-family='"Liberation Sans", sans-serif' >Simulation</text>
<rect x="564.3" y="25.0" width="110.4" height="72.4" fill="none" stroke="#666" stroke-width="0.9"/>
<text x="560.8" y="99.6" font-size="11.7" font-weight="normal" text-anchor="end" fill="#111" font-family='"Liberation Sans", sans-serif' >0</text>
<line x1="564.3" y1="95.6" x2="565.9" y2="95.6" stroke="#666" stroke-width="0.7" />
<line x1="673.1" y1="95.6" x2="674.7" y2="95.6" stroke="#666" stroke-width="0.7" />
<text x="560.8" y="70.8" font-size="11.7" font-weight="normal" text-anchor="end" fill="#111" font-family='"Liberation Sans", sans-serif' >50</text>
<line x1="564.3" y1="66.8" x2="565.9" y2="66.8" stroke="#666" stroke-width="0.7" />
<line x1="673.1" y1="66.8" x2="674.7" y2="66.8" stroke="#666" stroke-width="0.7" />
<text x="560.8" y="41.9" font-size="11.7" font-weight="normal" text-anchor="end" fill="#111" font-family='"Liberation Sans", sans-serif' >100</text>
<line x1="564.3" y1="37.9" x2="565.9" y2="37.9" stroke="#666" stroke-width="0.7" />
<line x1="673.1" y1="37.9" x2="674.7" y2="37.9" stroke="#666" stroke-width="0.7" />
<text x="564.3" y="111.8" font-size="11.7" font-weight="normal" text-anchor="middle" fill="#111" font-family='"Liberation Sans", sans-serif' >0</text>
<line x1="564.3" y1="97.4" x2="564.3" y2="95.8" stroke="#666" stroke-width="0.7" />
<line x1="564.3" y1="25.0" x2="564.3" y2="26.6" stroke="#666" stroke-width="0.7" />
<text x="601.1" y="111.8" font-size="11.7" font-weight="normal" text-anchor="middle" fill="#111" font-family='"Liberation Sans", sans-serif' >120</text>
<line x1="601.1" y1="97.4" x2="601.1" y2="95.8" stroke="#666" stroke-width="0.7" />
<line x1="601.1" y1="25.0" x2="601.1" y2="26.6" stroke="#666" stroke-width="0.7" />
<text x="637.8" y="111.8" font-size="11.7" font-weight="normal" text-anchor="middle" fill="#111" font-family='"Liberation Sans", sans-serif' >240</text>
<line x1="637.8" y1="97.4" x2="637.8" y2="95.8" stroke="#666" stroke-width="0.7" />
<line x1="637.8" y1="25.0" x2="637.8" y2="26.6" stroke="#666" stroke-width="0.7" />
<text x="674.6" y="111.8" font-size="11.7" font-weight="normal" text-anchor="middle" fill="#111" font-family='"Liberation Sans", sans-serif' >360</text>
<line x1="674.6" y1="97.4" x2="674.6" y2="95.8" stroke="#666" stroke-width="0.7" />
<line x1="674.6" y1="25.0" x2="674.6" y2="26.6" stroke="#666" stroke-width="0.7" />
<text x="619.5" y="126.7" font-size="12" font-weight="normal" text-anchor="middle" fill="#111" font-family='"Liberation Sans", sans-serif' >Time (min)</text>
<text transform="translate(521.6,62.5) rotate(-90)" font-size="10.8" text-anchor="middle" font-family='"Liberation Sans", sans-serif' fill="#111">NFκB activity</text>
<text transform="translate(534.9,62.5) rotate(-90)" font-size="11.12" text-anchor="middle" font-family='"Liberation Sans", sans-serif' fill="#111">(relative % max.)</text>
<path d="M564.30,90.41 C564.71,90.12 565.93,89.73 566.75,88.68 C567.57,87.62 568.39,86.37 569.20,84.06 C570.02,81.75 570.84,79.25 571.65,74.83 C572.47,70.40 573.39,62.71 574.10,57.52 C574.82,52.33 575.33,46.94 575.94,43.67 C576.56,40.40 577.17,37.52 577.78,37.90 C578.39,38.28 579.01,41.94 579.62,45.98 C580.23,50.02 580.85,57.33 581.46,62.13 C582.07,66.94 582.68,71.75 583.30,74.83 C583.91,77.91 584.42,79.54 585.14,80.60 C585.85,81.66 586.67,81.75 587.59,81.17 C588.51,80.60 589.63,79.25 590.65,77.14 C591.67,75.02 592.69,71.17 593.71,68.48 C594.74,65.79 595.91,62.52 596.78,60.98 C597.65,59.44 598.21,59.06 598.92,59.25 C599.64,59.44 600.20,60.40 601.07,62.13 C601.94,63.87 603.11,67.62 604.13,69.63 C605.15,71.65 606.17,73.19 607.20,74.25 C608.22,75.31 609.14,75.98 610.26,75.98 C611.38,75.98 612.81,75.02 613.94,74.25 C615.06,73.48 615.98,72.04 617.00,71.37 C618.02,70.69 618.94,70.12 620.06,70.21 C621.19,70.31 622.52,71.27 623.74,71.94 C624.97,72.62 626.09,73.67 627.42,74.25 C628.75,74.83 629.97,75.21 631.71,75.41 C633.44,75.60 635.90,75.45 637.84,75.41 C639.78,75.36 641.31,74.97 643.35,75.12 C645.39,75.26 647.44,75.84 650.09,76.27 C652.75,76.70 656.48,77.33 659.28,77.71 C662.09,78.10 664.39,78.29 666.94,78.58 C669.50,78.87 673.33,79.30 674.60,79.44" fill="none" stroke="#111" stroke-width="1.3"/>
<text x="325.2" y="154.6" font-size="13" font-weight="bold" text-anchor="start" fill="#000" font-family='"Liberation Sans", sans-serif'  stroke="#000" stroke-width="0.3">d</text>
<rect x="377.8" y="159.7" width="110.4" height="71.1" fill="none" stroke="#666" stroke-width="0.9"/>
<text x="374.2" y="234.5" font-size="11.7" font-weight="normal" text-anchor="end" fill="#111" font-family='"Liberation Sans", sans-serif' >0</text>
<line x1="377.8" y1="230.5" x2="379.4" y2="230.5" stroke="#666" stroke-width="0.7" />
<line x1="486.6" y1="230.5" x2="488.2" y2="230.5" stroke="#666" stroke-width="0.7" />
<text x="374.2" y="205.0" font-size="11.7" font-weight="normal" text-anchor="end" fill="#111" font-family='"Liberation Sans", sans-serif' >50</text>
<line x1="377.8" y1="201.0" x2="379.4" y2="201.0" stroke="#666" stroke-width="0.7" />
<line x1="486.6" y1="201.0" x2="488.2" y2="201.0" stroke="#666" stroke-width="0.7" />
<text x="374.2" y="175.5" font-size="11.7" font-weight="normal" text-anchor="end" fill="#111" font-family='"Liberation Sans", sans-serif' >100</text>
<line x1="377.8" y1="171.5" x2="379.4" y2="171.5" stroke="#666" stroke-width="0.7" />
<line x1="486.6" y1="171.5" x2="488.2" y2="171.5" stroke="#666" stroke-width="0.7" />
<line x1="384.4" y1="230.8" x2="384.4" y2="229.2" stroke="#666" stroke-width="0.7" />
<line x1="384.4" y1="159.7" x2="384.4" y2="161.3" stroke="#666" stroke-width="0.7" />
<line x1="398.3" y1="230.8" x2="398.3" y2="229.2" stroke="#666" stroke-width="0.7" />
<line x1="398.3" y1="159.7" x2="398.3" y2="161.3" stroke="#666" stroke-width="0.7" />
<line x1="412.2" y1="230.8" x2="412.2" y2="229.2" stroke="#666" stroke-width="0.7" />
<line x1="412.2" y1="159.7" x2="412.2" y2="161.3" stroke="#666" stroke-width="0.7" />
<line x1="426.1" y1="230.8" x2="426.1" y2="229.2" stroke="#666" stroke-width="0.7" />
<line x1="426.1" y1="159.7" x2="426.1" y2="161.3" stroke="#666" stroke-width="0.7" />
<line x1="440.0" y1="230.8" x2="440.0" y2="229.2" stroke="#666" stroke-width="0.7" />
<line x1="440.0" y1="159.7" x2="440.0" y2="161.3" stroke="#666" stroke-width="0.7" />
<line x1="453.9" y1="230.8" x2="453.9" y2="229.2" stroke="#666" stroke-width="0.7" />
<line x1="453.9" y1="159.7" x2="453.9" y2="161.3" stroke="#666" stroke-width="0.7" />
<line x1="467.8" y1="230.8" x2="467.8" y2="229.2" stroke="#666" stroke-width="0.7" />
<line x1="467.8" y1="159.7" x2="467.8" y2="161.3" stroke="#666" stroke-width="0.7" />
<line x1="481.7" y1="230.8" x2="481.7" y2="229.2" stroke="#666" stroke-width="0.7" />
<line x1="481.7" y1="159.7" x2="481.7" y2="161.3" stroke="#666" stroke-width="0.7" />
<text x="384.9" y="247.5" font-size="11.7" text-anchor="middle" font-family='"Liberation Sans", sans-serif' fill="#111">10<tspan font-size="9.1" dy="-4.6">-11</tspan></text>
<text x="412.7" y="247.5" font-size="11.7" text-anchor="middle" font-family='"Liberation Sans", sans-serif' fill="#111">10<tspan font-size="9.1" dy="-4.6">-9</tspan></text>
<text x="440.5" y="247.5" font-size="11.7" text-anchor="middle" font-family='"Liberation Sans", sans-serif' fill="#111">10<tspan font-size="9.1" dy="-4.6">-7</tspan></text>
<text x="468.3" y="247.5" font-size="11.7" text-anchor="middle" font-family='"Liberation Sans", sans-serif' fill="#111">10<tspan font-size="9.1" dy="-4.6">-5</tspan></text>
<text x="432.8" y="262.8" font-size="12" font-weight="normal" text-anchor="middle" fill="#111" font-family='"Liberation Sans", sans-serif' >M4 concentration (g/ml)</text>
<text transform="translate(334.4,197.5) rotate(-90)" font-size="10.8" text-anchor="middle" font-family='"Liberation Sans", sans-serif' fill="#111">NFκB activity</text>
<text transform="translate(347.6,197.5) rotate(-90)" font-size="11.12" text-anchor="middle" font-family='"Liberation Sans", sans-serif' fill="#111">(relative % max.)</text>
<line x1="384.4" y1="209.4" x2="384.4" y2="221.2" stroke="#8a8a8a" stroke-width="0.75" />
<line x1="383.4" y1="209.4" x2="385.4" y2="209.4" stroke="#8a8a8a" stroke-width="0.6" />
<line x1="383.4" y1="221.2" x2="385.4" y2="221.2" stroke="#8a8a8a" stroke-width="0.6" />
<line x1="398.3" y1="209.8" x2="398.3" y2="222.8" stroke="#8a8a8a" stroke-width="0.75" />
<line x1="397.3" y1="209.8" x2="399.3" y2="209.8" stroke="#8a8a8a" stroke-width="0.6" />
<line x1="397.3" y1="222.8" x2="399.3" y2="222.8" stroke="#8a8a8a" stroke-width="0.6" />
<line x1="412.2" y1="208.7" x2="412.2" y2="222.8" stroke="#8a8a8a" stroke-width="0.75" />
<line x1="411.2" y1="208.7" x2="413.2" y2="208.7" stroke="#8a8a8a" stroke-width="0.6" />
<line x1="411.2" y1="222.8" x2="413.2" y2="222.8" stroke="#8a8a8a" stroke-width="0.6" />
<line x1="426.1" y1="203.4" x2="426.1" y2="219.9" stroke="#8a8a8a" stroke-width="0.75" />
<line x1="425.1" y1="203.4" x2="427.1" y2="203.4" stroke="#8a8a8a" stroke-width="0.6" />
<line x1="425.1" y1="219.9" x2="427.1" y2="219.9" stroke="#8a8a8a" stroke-width="0.6" />
<line x1="440.0" y1="204.5" x2="440.0" y2="210.4" stroke="#8a8a8a" stroke-width="0.75" />
<line x1="439.0" y1="204.5" x2="441.0" y2="204.5" stroke="#8a8a8a" stroke-width="0.6" />
<line x1="439.0" y1="210.4" x2="441.0" y2="210.4" stroke="#8a8a8a" stroke-width="0.6" />
<line x1="453.9" y1="188.8" x2="453.9" y2="207.7" stroke="#8a8a8a" stroke-width="0.75" />
<line x1="452.9" y1="188.8" x2="454.9" y2="188.8" stroke="#8a8a8a" stroke-width="0.6" />
<line x1="452.9" y1="207.7" x2="454.9" y2="207.7" stroke="#8a8a8a" stroke-width="0.6" />
<line x1="481.7" y1="168.1" x2="481.7" y2="176.4" stroke="#8a8a8a" stroke-width="0.75" />
<line x1="480.7" y1="168.1" x2="482.7" y2="168.1" stroke="#8a8a8a" stroke-width="0.6" />
<line x1="480.7" y1="176.4" x2="482.7" y2="176.4" stroke="#8a8a8a" stroke-width="0.6" />
<polyline points="384.40,215.28 398.30,216.34 412.20,215.75 426.10,211.62 440.00,207.49 453.90,198.23 467.80,171.50 481.70,172.27" fill="none" stroke="#111" stroke-width="1.4"/>
<circle cx="384.40" cy="215.28" r="1.9" fill="#111"/>
<circle cx="398.30" cy="216.34" r="1.9" fill="#111"/>
<circle cx="412.20" cy="215.75" r="1.9" fill="#111"/>
<circle cx="426.10" cy="211.62" r="1.9" fill="#111"/>
<circle cx="440.00" cy="207.49" r="1.9" fill="#111"/>
<circle cx="453.90" cy="198.23" r="1.9" fill="#111"/>
<circle cx="467.80" cy="171.50" r="1.9" fill="#111"/>
<circle cx="481.70" cy="172.27" r="1.9" fill="#111"/>
<text x="513.3" y="155.1" font-size="13" font-weight="bold" text-anchor="start" fill="#000" font-family='"Liberation Sans", sans-serif'  stroke="#000" stroke-width="0.3">e</text>
<rect x="564.8" y="158.9" width="111.2" height="72.4" fill="none" stroke="#666" stroke-width="0.9"/>
<text x="561.2" y="235.3" font-size="11.7" font-weight="normal" text-anchor="end" fill="#111" font-family='"Liberation Sans", sans-serif' >0</text>
<line x1="564.8" y1="231.3" x2="566.4" y2="231.3" stroke="#666" stroke-width="0.7" />
<line x1="674.4" y1="231.3" x2="676.0" y2="231.3" stroke="#666" stroke-width="0.7" />
<text x="561.2" y="205.9" font-size="11.7" font-weight="normal" text-anchor="end" fill="#111" font-family='"Liberation Sans", sans-serif' >50</text>
<line x1="564.8" y1="201.9" x2="566.4" y2="201.9" stroke="#666" stroke-width="0.7" />
<line x1="674.4" y1="201.9" x2="676.0" y2="201.9" stroke="#666" stroke-width="0.7" />
<text x="561.2" y="176.4" font-size="11.7" font-weight="normal" text-anchor="end" fill="#111" font-family='"Liberation Sans", sans-serif' >100</text>
<line x1="564.8" y1="172.4" x2="566.4" y2="172.4" stroke="#666" stroke-width="0.7" />
<line x1="674.4" y1="172.4" x2="676.0" y2="172.4" stroke="#666" stroke-width="0.7" />
<line x1="574.0" y1="231.3" x2="574.0" y2="229.7" stroke="#666" stroke-width="0.7" />
<line x1="574.0" y1="158.9" x2="574.0" y2="160.5" stroke="#666" stroke-width="0.7" />
<line x1="588.2" y1="231.3" x2="588.2" y2="229.7" stroke="#666" stroke-width="0.7" />
<line x1="588.2" y1="158.9" x2="588.2" y2="160.5" stroke="#666" stroke-width="0.7" />
<line x1="602.4" y1="231.3" x2="602.4" y2="229.7" stroke="#666" stroke-width="0.7" />
<line x1="602.4" y1="158.9" x2="602.4" y2="160.5" stroke="#666" stroke-width="0.7" />
<line x1="616.6" y1="231.3" x2="616.6" y2="229.7" stroke="#666" stroke-width="0.7" />
<line x1="616.6" y1="158.9" x2="616.6" y2="160.5" stroke="#666" stroke-width="0.7" />
<line x1="630.8" y1="231.3" x2="630.8" y2="229.7" stroke="#666" stroke-width="0.7" />
<line x1="630.8" y1="158.9" x2="630.8" y2="160.5" stroke="#666" stroke-width="0.7" />
<line x1="645.0" y1="231.3" x2="645.0" y2="229.7" stroke="#666" stroke-width="0.7" />
<line x1="645.0" y1="158.9" x2="645.0" y2="160.5" stroke="#666" stroke-width="0.7" />
<line x1="659.2" y1="231.3" x2="659.2" y2="229.7" stroke="#666" stroke-width="0.7" />
<line x1="659.2" y1="158.9" x2="659.2" y2="160.5" stroke="#666" stroke-width="0.7" />
<line x1="673.4" y1="231.3" x2="673.4" y2="229.7" stroke="#666" stroke-width="0.7" />
<line x1="673.4" y1="158.9" x2="673.4" y2="160.5" stroke="#666" stroke-width="0.7" />
<text x="574.5" y="247.0" font-size="11.7" text-anchor="middle" font-family='"Liberation Sans", sans-serif' fill="#111">10<tspan font-size="9.1" dy="-4.6">-11</tspan></text>
<text x="602.9" y="247.0" font-size="11.7" text-anchor="middle" font-family='"Liberation Sans", sans-serif' fill="#111">10<tspan font-size="9.1" dy="-4.6">-9</tspan></text>
<text x="631.3" y="247.0" font-size="11.7" text-anchor="middle" font-family='"Liberation Sans", sans-serif' fill="#111">10<tspan font-size="9.1" dy="-4.6">-7</tspan></text>
<text x="659.7" y="247.0" font-size="11.7" text-anchor="middle" font-family='"Liberation Sans", sans-serif' fill="#111">10<tspan font-size="9.1" dy="-4.6">-5</tspan></text>
<text x="621.0" y="261.8" font-size="12" font-weight="normal" text-anchor="middle" fill="#111" font-family='"Liberation Sans", sans-serif' >Stimulus dose (g/ml)</text>
<text transform="translate(521.6,197.5) rotate(-90)" font-size="10.8" text-anchor="middle" font-family='"Liberation Sans", sans-serif' fill="#111">NFκB activity</text>
<text transform="translate(534.9,197.5) rotate(-90)" font-size="11.12" text-anchor="middle" font-family='"Liberation Sans", sans-serif' fill="#111">(relative % max.)</text>
<path d="M572.90,224.23 C575.75,224.19 583.82,224.15 590.00,224.00 C596.18,223.84 603.33,223.58 610.00,223.29 C616.67,223.00 625.67,222.52 630.00,222.23 C634.33,221.93 634.57,221.83 636.00,221.52 C637.43,221.22 637.90,221.23 638.60,220.40 C639.30,219.58 639.77,219.18 640.20,216.58 C640.63,213.97 640.85,208.72 641.20,204.80 C641.55,200.87 641.83,196.25 642.30,193.02 C642.77,189.78 643.22,187.62 644.00,185.36 C644.78,183.10 645.75,181.14 647.00,179.47 C648.25,177.80 649.83,176.38 651.50,175.35 C653.17,174.31 655.08,173.77 657.00,173.28 C658.92,172.79 660.90,172.51 663.00,172.40 C665.10,172.29 668.50,172.60 669.60,172.64" fill="none" stroke="#111" stroke-width="1.3"/>
<text x="365.5" y="288.6" font-size="12" font-weight="normal" text-anchor="start" fill="#111" font-family='"Liberation Sans", sans-serif' >Characterization of the dynamics</text>
<path d="M355.5,290.2 Q353.7,292.5 353.7,297.5 L353.7,481 Q353.7,492 364.7,492 L637.7,492 Q648.7,492 648.7,481 L648.7,295 Q648.7,284 637.7,284 L556,284" stroke="#333" stroke-width="1.2" fill="none" />
<text x="384.9" y="310.4" font-size="13" font-weight="bold" text-anchor="start" fill="#000" font-family='"Liberation Sans", sans-serif'  stroke="#000" stroke-width="0.3">f</text>
<text x="443.2" y="310.6" font-size="12" font-weight="normal" text-anchor="middle" fill="#111" font-family='"Liberation Sans", sans-serif' >Amplitude</text>
<rect x="400.5" y="316.9" width="89.1" height="58.5" fill="none" stroke="#888" stroke-width="0.8"/>
<line x1="411.6" y1="375.4" x2="411.6" y2="374.2" stroke="#888" stroke-width="0.6" />
<line x1="411.6" y1="316.9" x2="411.6" y2="318.1" stroke="#888" stroke-width="0.6" />
<line x1="422.8" y1="375.4" x2="422.8" y2="374.2" stroke="#888" stroke-width="0.6" />
<line x1="422.8" y1="316.9" x2="422.8" y2="318.1" stroke="#888" stroke-width="0.6" />
<line x1="433.9" y1="375.4" x2="433.9" y2="374.2" stroke="#888" stroke-width="0.6" />
<line x1="433.9" y1="316.9" x2="433.9" y2="318.1" stroke="#888" stroke-width="0.6" />
<line x1="445.1" y1="375.4" x2="445.1" y2="374.2" stroke="#888" stroke-width="0.6" />
<line x1="445.1" y1="316.9" x2="445.1" y2="318.1" stroke="#888" stroke-width="0.6" />
<line x1="456.2" y1="375.4" x2="456.2" y2="374.2" stroke="#888" stroke-width="0.6" />
<line x1="456.2" y1="316.9" x2="456.2" y2="318.1" stroke="#888" stroke-width="0.6" />
<line x1="467.3" y1="375.4" x2="467.3" y2="374.2" stroke="#888" stroke-width="0.6" />
<line x1="467.3" y1="316.9" x2="467.3" y2="318.1" stroke="#888" stroke-width="0.6" />
<line x1="478.5" y1="375.4" x2="478.5" y2="374.2" stroke="#888" stroke-width="0.6" />
<line x1="478.5" y1="316.9" x2="478.5" y2="318.1" stroke="#888" stroke-width="0.6" />
<line x1="400.5" y1="328.6" x2="401.7" y2="328.6" stroke="#888" stroke-width="0.6" />
<line x1="488.4" y1="328.6" x2="489.6" y2="328.6" stroke="#888" stroke-width="0.6" />
<line x1="400.5" y1="340.3" x2="401.7" y2="340.3" stroke="#888" stroke-width="0.6" />
<line x1="488.4" y1="340.3" x2="489.6" y2="340.3" stroke="#888" stroke-width="0.6" />
<line x1="400.5" y1="352.0" x2="401.7" y2="352.0" stroke="#888" stroke-width="0.6" />
<line x1="488.4" y1="352.0" x2="489.6" y2="352.0" stroke="#888" stroke-width="0.6" />
<line x1="400.5" y1="363.7" x2="401.7" y2="363.7" stroke="#888" stroke-width="0.6" />
<line x1="488.4" y1="363.7" x2="489.6" y2="363.7" stroke="#888" stroke-width="0.6" />
<path d="M400.80,370.10 C401.17,369.67 402.27,368.78 403.00,367.50 C403.73,366.22 404.53,364.65 405.20,362.40 C405.87,360.15 406.38,358.02 407.00,354.00 C407.62,349.98 408.37,342.38 408.90,338.30 C409.43,334.22 409.78,331.45 410.20,329.50 C410.62,327.55 411.00,326.60 411.40,326.60 C411.80,326.60 412.17,327.55 412.60,329.50 C413.03,331.45 413.50,334.55 414.00,338.30 C414.50,342.05 415.12,348.30 415.60,352.00 C416.08,355.70 416.48,358.67 416.90,360.50 C417.32,362.33 417.58,362.70 418.10,363.00 C418.62,363.30 419.35,363.02 420.00,362.30 C420.65,361.58 421.33,360.33 422.00,358.70 C422.67,357.07 423.38,354.45 424.00,352.50 C424.62,350.55 425.07,348.35 425.70,347.00 C426.33,345.65 426.95,344.27 427.80,344.40 C428.65,344.53 430.00,346.37 430.80,347.80 C431.60,349.23 432.00,351.42 432.60,353.00 C433.20,354.58 433.73,356.30 434.40,357.30 C435.07,358.30 435.62,359.13 436.60,359.00 C437.58,358.87 438.97,357.40 440.30,356.50 C441.63,355.60 443.15,353.83 444.60,353.60 C446.05,353.37 447.53,354.45 449.00,355.10 C450.47,355.75 451.70,357.02 453.40,357.50 C455.10,357.98 457.50,357.92 459.20,358.00 C460.90,358.08 461.65,357.83 463.60,358.00 C465.55,358.17 468.17,358.70 470.90,359.00 C473.63,359.30 476.92,359.55 480.00,359.80 C483.08,360.05 487.83,360.38 489.40,360.50" fill="none" stroke="#111" stroke-width="1.2"/>
<line x1="403.8" y1="370.4" x2="415.4" y2="370.4" stroke="#111" stroke-width="1.0" stroke-dasharray="2.2,1.8"/>
<line x1="421.0" y1="363.1" x2="432.2" y2="363.1" stroke="#111" stroke-width="1.0" stroke-dasharray="2.2,1.8"/>
<line x1="438.8" y1="359.4" x2="449.7" y2="359.4" stroke="#111" stroke-width="1.0" stroke-dasharray="2.2,1.8"/>
<line x1="411.5" y1="331.0" x2="411.5" y2="368.2" stroke="#1a1adc" stroke-width="1.2" />
<path d="M411.50,368.20 L409.70,365.20 L411.50,365.62 L413.30,365.20 Z" fill="#1a1adc"/>
<path d="M411.50,331.00 L413.30,334.00 L411.50,333.58 L409.70,334.00 Z" fill="#1a1adc"/>
<line x1="427.8" y1="347.2" x2="427.8" y2="363.0" stroke="#1a1adc" stroke-width="1.2" />
<path d="M427.80,363.00 L426.00,360.00 L427.80,360.42 L429.60,360.00 Z" fill="#1a1adc"/>
<path d="M427.80,347.20 L429.60,350.20 L427.80,349.78 L426.00,350.20 Z" fill="#1a1adc"/>
<line x1="445.4" y1="354.4" x2="445.4" y2="359.8" stroke="#1a1adc" stroke-width="1.2" />
<path d="M445.40,359.80 L443.80,357.40 L445.40,357.74 L447.00,357.40 Z" fill="#1a1adc"/>
<path d="M445.40,354.40 L447.00,356.80 L445.40,356.46 L443.80,356.80 Z" fill="#1a1adc"/>
<path d="M464.3,356.8 L465.8,358.6 L464.3,360.4 L462.8,358.6 Z" fill="#1a1adc"/>
<text x="411.5" y="324.8" font-size="7.2" font-weight="normal" text-anchor="middle" fill="#333" font-family='"Liberation Serif", serif' >I</text>
<text x="427.8" y="341.2" font-size="7.2" font-weight="normal" text-anchor="middle" fill="#333" font-family='"Liberation Serif", serif' >II</text>
<text x="445.4" y="349.7" font-size="7.2" font-weight="normal" text-anchor="middle" fill="#333" font-family='"Liberation Serif", serif' >III</text>
<text x="464.3" y="352.9" font-size="7.2" font-weight="normal" text-anchor="middle" fill="#333" font-family='"Liberation Serif", serif' >IV</text>
<text transform="translate(392.3,345.8) rotate(-90)" font-size="9.9" text-anchor="middle" font-family='"Liberation Sans", sans-serif' fill="#111">NFκB activity</text>
<text x="441.2" y="386.6" font-size="9.5" font-weight="normal" text-anchor="middle" fill="#111" font-family='"Liberation Sans", sans-serif' >Time</text>
<text x="518.0" y="308.0" font-size="13" font-weight="bold" text-anchor="start" fill="#000" font-family='"Liberation Sans", sans-serif'  stroke="#000" stroke-width="0.3">g</text>
<text x="573.2" y="310.6" font-size="12" font-weight="normal" text-anchor="middle" fill="#111" font-family='"Liberation Sans", sans-serif' >Period</text>
<rect x="529.5" y="317.5" width="89.4" height="58.5" fill="none" stroke="#888" stroke-width="0.8"/>
<line x1="540.7" y1="376.0" x2="540.7" y2="374.8" stroke="#888" stroke-width="0.6" />
<line x1="540.7" y1="317.5" x2="540.7" y2="318.7" stroke="#888" stroke-width="0.6" />
<line x1="551.9" y1="376.0" x2="551.9" y2="374.8" stroke="#888" stroke-width="0.6" />
<line x1="551.9" y1="317.5" x2="551.9" y2="318.7" stroke="#888" stroke-width="0.6" />
<line x1="563.0" y1="376.0" x2="563.0" y2="374.8" stroke="#888" stroke-width="0.6" />
<line x1="563.0" y1="317.5" x2="563.0" y2="318.7" stroke="#888" stroke-width="0.6" />
<line x1="574.2" y1="376.0" x2="574.2" y2="374.8" stroke="#888" stroke-width="0.6" />
<line x1="574.2" y1="317.5" x2="574.2" y2="318.7" stroke="#888" stroke-width="0.6" />
<line x1="585.4" y1="376.0" x2="585.4" y2="374.8" stroke="#888" stroke-width="0.6" />
<line x1="585.4" y1="317.5" x2="585.4" y2="318.7" stroke="#888" stroke-width="0.6" />
<line x1="596.5" y1="376.0" x2="596.5" y2="374.8" stroke="#888" stroke-width="0.6" />
<line x1="596.5" y1="317.5" x2="596.5" y2="318.7" stroke="#888" stroke-width="0.6" />
<line x1="607.7" y1="376.0" x2="607.7" y2="374.8" stroke="#888" stroke-width="0.6" />
<line x1="607.7" y1="317.5" x2="607.7" y2="318.7" stroke="#888" stroke-width="0.6" />
<line x1="529.5" y1="329.2" x2="530.7" y2="329.2" stroke="#888" stroke-width="0.6" />
<line x1="617.7" y1="329.2" x2="618.9" y2="329.2" stroke="#888" stroke-width="0.6" />
<line x1="529.5" y1="340.9" x2="530.7" y2="340.9" stroke="#888" stroke-width="0.6" />
<line x1="617.7" y1="340.9" x2="618.9" y2="340.9" stroke="#888" stroke-width="0.6" />
<line x1="529.5" y1="352.6" x2="530.7" y2="352.6" stroke="#888" stroke-width="0.6" />
<line x1="617.7" y1="352.6" x2="618.9" y2="352.6" stroke="#888" stroke-width="0.6" />
<line x1="529.5" y1="364.3" x2="530.7" y2="364.3" stroke="#888" stroke-width="0.6" />
<line x1="617.7" y1="364.3" x2="618.9" y2="364.3" stroke="#888" stroke-width="0.6" />
<path d="M529.50,370.70 C529.92,370.42 531.22,369.78 532.00,369.00 C532.78,368.22 533.50,367.83 534.20,366.00 C534.90,364.17 535.58,360.92 536.20,358.00 C536.82,355.08 537.38,352.33 537.90,348.50 C538.42,344.67 538.87,338.42 539.30,335.00 C539.73,331.58 540.08,328.33 540.50,328.00 C540.92,327.67 541.38,330.07 541.80,333.00 C542.22,335.93 542.47,341.60 543.00,345.60 C543.53,349.60 544.27,354.08 545.00,357.00 C545.73,359.92 546.65,362.43 547.40,363.10 C548.15,363.77 548.78,362.22 549.50,361.00 C550.22,359.78 550.87,358.13 551.70,355.80 C552.53,353.47 553.65,348.95 554.50,347.00 C555.35,345.05 556.05,343.77 556.80,344.10 C557.55,344.43 558.27,347.05 559.00,349.00 C559.73,350.95 560.50,354.25 561.20,355.80 C561.90,357.35 562.47,357.82 563.20,358.30 C563.93,358.78 564.47,359.08 565.60,358.70 C566.73,358.32 568.53,356.90 570.00,356.00 C571.47,355.10 572.82,353.22 574.40,353.30 C575.98,353.38 577.92,355.65 579.50,356.50 C581.08,357.35 581.83,358.08 583.90,358.40 C585.97,358.72 588.38,358.17 591.90,358.40 C595.42,358.63 600.55,359.32 605.00,359.80 C609.45,360.28 616.33,361.05 618.60,361.30" fill="none" stroke="#111" stroke-width="1.2"/>
<line x1="540.5" y1="317.5" x2="540.5" y2="376.0" stroke="#111" stroke-width="1.0" stroke-dasharray="2.2,1.8"/>
<line x1="556.4" y1="317.5" x2="556.4" y2="376.0" stroke="#111" stroke-width="1.0" stroke-dasharray="2.2,1.8"/>
<line x1="574.7" y1="317.5" x2="574.7" y2="376.0" stroke="#111" stroke-width="1.0" stroke-dasharray="2.2,1.8"/>
<line x1="591.9" y1="317.5" x2="591.9" y2="376.0" stroke="#111" stroke-width="1.0" stroke-dasharray="2.2,1.8"/>
<line x1="530.0" y1="327.0" x2="540.3" y2="327.0" stroke="#1a1adc" stroke-width="1.2" />
<path d="M540.30,327.00 L537.10,328.90 L537.55,327.00 L537.10,325.10 Z" fill="#1a1adc"/>
<path d="M530.00,327.00 L533.20,325.10 L532.75,327.00 L533.20,328.90 Z" fill="#1a1adc"/>
<line x1="540.7" y1="327.0" x2="556.2" y2="327.0" stroke="#1a1adc" stroke-width="1.2" />
<path d="M556.20,327.00 L553.00,328.90 L553.45,327.00 L553.00,325.10 Z" fill="#1a1adc"/>
<path d="M540.70,327.00 L543.90,325.10 L543.45,327.00 L543.90,328.90 Z" fill="#1a1adc"/>
<line x1="556.6" y1="327.0" x2="574.5" y2="327.0" stroke="#1a1adc" stroke-width="1.2" />
<path d="M574.50,327.00 L571.30,328.90 L571.75,327.00 L571.30,325.10 Z" fill="#1a1adc"/>
<path d="M556.60,327.00 L559.80,325.10 L559.35,327.00 L559.80,328.90 Z" fill="#1a1adc"/>
<line x1="574.9" y1="327.0" x2="591.7" y2="327.0" stroke="#1a1adc" stroke-width="1.2" />
<path d="M591.70,327.00 L588.50,328.90 L588.95,327.00 L588.50,325.10 Z" fill="#1a1adc"/>
<path d="M574.90,327.00 L578.10,325.10 L577.65,327.00 L578.10,328.90 Z" fill="#1a1adc"/>
<text x="534.5" y="324.4" font-size="7.2" font-weight="normal" text-anchor="middle" fill="#333" font-family='"Liberation Serif", serif' >I</text>
<text x="548.5" y="324.4" font-size="7.2" font-weight="normal" text-anchor="middle" fill="#333" font-family='"Liberation Serif", serif' >II</text>
<text x="565.6" y="324.4" font-size="7.2" font-weight="normal" text-anchor="middle" fill="#333" font-family='"Liberation Serif", serif' >III</text>
<text x="583.9" y="324.4" font-size="7.2" font-weight="normal" text-anchor="middle" fill="#333" font-family='"Liberation Serif", serif' >IV</text>
<text transform="translate(523.5,347.2) rotate(-90)" font-size="9.9" text-anchor="middle" font-family='"Liberation Sans", sans-serif' fill="#111">NFκB activity</text>
<text x="572.6" y="387.4" font-size="9.5" font-weight="normal" text-anchor="middle" fill="#111" font-family='"Liberation Sans", sans-serif' >Time</text>
<text x="384.5" y="404.0" font-size="13" font-weight="bold" text-anchor="start" fill="#000" font-family='"Liberation Sans", sans-serif'  stroke="#000" stroke-width="0.3">h</text>
<text x="443.4" y="406.6" font-size="12" font-weight="normal" text-anchor="middle" fill="#111" font-family='"Liberation Sans", sans-serif' >Hill coefficient</text>
<rect x="399.7" y="412.3" width="89.9" height="58.4" fill="none" stroke="#888" stroke-width="0.8"/>
<line x1="410.9" y1="470.7" x2="410.9" y2="469.5" stroke="#888" stroke-width="0.6" />
<line x1="410.9" y1="412.3" x2="410.9" y2="413.5" stroke="#888" stroke-width="0.6" />
<line x1="422.2" y1="470.7" x2="422.2" y2="469.5" stroke="#888" stroke-width="0.6" />
<line x1="422.2" y1="412.3" x2="422.2" y2="413.5" stroke="#888" stroke-width="0.6" />
<line x1="433.4" y1="470.7" x2="433.4" y2="469.5" stroke="#888" stroke-width="0.6" />
<line x1="433.4" y1="412.3" x2="433.4" y2="413.5" stroke="#888" stroke-width="0.6" />
<line x1="444.6" y1="470.7" x2="444.6" y2="469.5" stroke="#888" stroke-width="0.6" />
<line x1="444.6" y1="412.3" x2="444.6" y2="413.5" stroke="#888" stroke-width="0.6" />
<line x1="455.9" y1="470.7" x2="455.9" y2="469.5" stroke="#888" stroke-width="0.6" />
<line x1="455.9" y1="412.3" x2="455.9" y2="413.5" stroke="#888" stroke-width="0.6" />
<line x1="467.1" y1="470.7" x2="467.1" y2="469.5" stroke="#888" stroke-width="0.6" />
<line x1="467.1" y1="412.3" x2="467.1" y2="413.5" stroke="#888" stroke-width="0.6" />
<line x1="478.4" y1="470.7" x2="478.4" y2="469.5" stroke="#888" stroke-width="0.6" />
<line x1="478.4" y1="412.3" x2="478.4" y2="413.5" stroke="#888" stroke-width="0.6" />
<line x1="399.7" y1="424.0" x2="400.9" y2="424.0" stroke="#888" stroke-width="0.6" />
<line x1="488.4" y1="424.0" x2="489.6" y2="424.0" stroke="#888" stroke-width="0.6" />
<line x1="399.7" y1="435.7" x2="400.9" y2="435.7" stroke="#888" stroke-width="0.6" />
<line x1="488.4" y1="435.7" x2="489.6" y2="435.7" stroke="#888" stroke-width="0.6" />
<line x1="399.7" y1="447.3" x2="400.9" y2="447.3" stroke="#888" stroke-width="0.6" />
<line x1="488.4" y1="447.3" x2="489.6" y2="447.3" stroke="#888" stroke-width="0.6" />
<line x1="399.7" y1="459.0" x2="400.9" y2="459.0" stroke="#888" stroke-width="0.6" />
<line x1="488.4" y1="459.0" x2="489.6" y2="459.0" stroke="#888" stroke-width="0.6" />
<path d="M406.00,465.10 C408.33,465.05 414.53,464.97 420.00,464.80 C425.47,464.63 433.47,464.32 438.80,464.10 C444.13,463.88 448.83,463.68 452.00,463.50 C455.17,463.32 456.55,463.25 457.80,463.00 C459.05,462.75 459.07,462.58 459.50,462.00 C459.93,461.42 460.12,461.17 460.40,459.50 C460.68,457.83 460.97,454.58 461.20,452.00 C461.43,449.42 461.60,446.23 461.80,444.00 C462.00,441.77 461.98,440.72 462.40,438.60 C462.82,436.48 463.37,433.37 464.30,431.30 C465.23,429.23 466.65,427.55 468.00,426.20 C469.35,424.85 470.82,423.88 472.40,423.20 C473.98,422.52 475.52,422.27 477.50,422.10 C479.48,421.93 483.17,422.18 484.30,422.20" fill="none" stroke="#111" stroke-width="1.2"/>
<line x1="457.0" y1="448.8" x2="471.6" y2="417.0" stroke="#111" stroke-width="1.0" stroke-dasharray="2.2,1.8"/>
<line x1="451.6" y1="422.2" x2="460.9" y2="431.2" stroke="#1a1adc" stroke-width="1.2" />
<path d="M462.40,432.70 L458.35,431.70 L460.18,430.54 L461.28,428.68 Z" fill="#1a1adc"/>
<text transform="translate(393.0,441.6) rotate(-90)" font-size="9.8" text-anchor="middle" font-family='"Liberation Sans", sans-serif' fill="#111">NFκB activity</text>
<text x="441.2" y="483.0" font-size="9.6" font-weight="normal" text-anchor="middle" fill="#111" font-family='"Liberation Sans", sans-serif' >Stimulus dose</text>
<text x="517.4" y="403.5" font-size="13" font-weight="bold" text-anchor="start" fill="#000" font-family='"Liberation Sans", sans-serif'  stroke="#000" stroke-width="0.3">i</text>
<text x="571.4" y="407.4" font-size="12" font-weight="normal" text-anchor="middle" fill="#111" font-family='"Liberation Sans", sans-serif' >EC50</text>
<rect x="529.5" y="412.3" width="89.1" height="58.4" fill="none" stroke="#888" stroke-width="0.8"/>
<line x1="540.6" y1="470.7" x2="540.6" y2="469.5" stroke="#888" stroke-width="0.6" />
<line x1="540.6" y1="412.3" x2="540.6" y2="413.5" stroke="#888" stroke-width="0.6" />
<line x1="551.8" y1="470.7" x2="551.8" y2="469.5" stroke="#888" stroke-width="0.6" />
<line x1="551.8" y1="412.3" x2="551.8" y2="413.5" stroke="#888" stroke-width="0.6" />
<line x1="562.9" y1="470.7" x2="562.9" y2="469.5" stroke="#888" stroke-width="0.6" />
<line x1="562.9" y1="412.3" x2="562.9" y2="413.5" stroke="#888" stroke-width="0.6" />
<line x1="574.0" y1="470.7" x2="574.0" y2="469.5" stroke="#888" stroke-width="0.6" />
<line x1="574.0" y1="412.3" x2="574.0" y2="413.5" stroke="#888" stroke-width="0.6" />
<line x1="585.2" y1="470.7" x2="585.2" y2="469.5" stroke="#888" stroke-width="0.6" />
<line x1="585.2" y1="412.3" x2="585.2" y2="413.5" stroke="#888" stroke-width="0.6" />
<line x1="596.3" y1="470.7" x2="596.3" y2="469.5" stroke="#888" stroke-width="0.6" />
<line x1="596.3" y1="412.3" x2="596.3" y2="413.5" stroke="#888" stroke-width="0.6" />
<line x1="607.5" y1="470.7" x2="607.5" y2="469.5" stroke="#888" stroke-width="0.6" />
<line x1="607.5" y1="412.3" x2="607.5" y2="413.5" stroke="#888" stroke-width="0.6" />
<line x1="529.5" y1="424.0" x2="530.7" y2="424.0" stroke="#888" stroke-width="0.6" />
<line x1="617.4" y1="424.0" x2="618.6" y2="424.0" stroke="#888" stroke-width="0.6" />
<line x1="529.5" y1="435.7" x2="530.7" y2="435.7" stroke="#888" stroke-width="0.6" />
<line x1="617.4" y1="435.7" x2="618.6" y2="435.7" stroke="#888" stroke-width="0.6" />
<line x1="529.5" y1="447.3" x2="530.7" y2="447.3" stroke="#888" stroke-width="0.6" />
<line x1="617.4" y1="447.3" x2="618.6" y2="447.3" stroke="#888" stroke-width="0.6" />
<line x1="529.5" y1="459.0" x2="530.7" y2="459.0" stroke="#888" stroke-width="0.6" />
<line x1="617.4" y1="459.0" x2="618.6" y2="459.0" stroke="#888" stroke-width="0.6" />
<path d="M535.00,465.10 C537.50,465.05 544.53,464.97 550.00,464.80 C555.47,464.63 562.80,464.33 567.80,464.10 C572.80,463.87 576.60,463.63 580.00,463.40 C583.40,463.17 586.60,463.02 588.20,462.70 C589.80,462.38 589.23,462.12 589.60,461.50 C589.97,460.88 590.18,460.58 590.40,459.00 C590.62,457.42 590.73,454.18 590.90,452.00 C591.07,449.82 591.18,448.07 591.40,445.90 C591.62,443.73 591.88,440.95 592.20,439.00 C592.52,437.05 592.75,435.97 593.30,434.20 C593.85,432.43 594.15,430.23 595.50,428.40 C596.85,426.57 599.45,424.30 601.40,423.20 C603.35,422.10 605.22,421.97 607.20,421.80 C609.18,421.63 612.28,422.13 613.30,422.20" fill="none" stroke="#111" stroke-width="1.2"/>
<line x1="594.8" y1="412.3" x2="594.8" y2="472.5" stroke="#111" stroke-width="1.0" stroke-dasharray="2.2,1.8"/>
<line x1="606.5" y1="483.8" x2="597.1" y2="474.0" stroke="#1a1adc" stroke-width="1.2" />
<path d="M595.60,472.40 L599.61,473.55 L597.74,474.64 L596.57,476.45 Z" fill="#1a1adc"/>
<text transform="translate(523.2,443.7) rotate(-90)" font-size="9.8" text-anchor="middle" font-family='"Liberation Sans", sans-serif' fill="#111">NFκB activity</text>
<text x="564.3" y="483.0" font-size="9.6" font-weight="normal" text-anchor="middle" fill="#111" font-family='"Liberation Sans", sans-serif' >Stimulus dose</text>
<text x="2.4" y="518.2" font-size="11.5" font-weight="bold" text-anchor="start" fill="#000" font-family='"Liberation Sans", sans-serif'  stroke="#000" stroke-width="0.3">j</text>
<text x="92.6" y="524.3" font-size="13" font-weight="normal" text-anchor="middle" fill="#111" font-family='"Liberation Sans", sans-serif' >Sum of amplitude</text>
<text transform="translate(10.7,575.8) rotate(-90)" font-size="13.1" text-anchor="middle" font-family='"Liberation Sans", sans-serif' fill="#111">Sensitivity</text>
<rect x="30.20" y="528.6" width="26.49" height="95.6" fill="#f9f1bf"/>
<rect x="56.64" y="528.6" width="17.92" height="95.6" fill="#bcc5e2"/>
<rect x="74.51" y="528.6" width="32.12" height="95.6" fill="#edbcbd"/>
<rect x="106.58" y="528.6" width="14.00" height="95.6" fill="#d4e8c8"/>
<rect x="120.53" y="528.6" width="11.19" height="95.6" fill="#f5e0c0"/>
<rect x="131.67" y="528.6" width="15.72" height="95.6" fill="#f2dcdd"/>
<rect x="147.34" y="528.6" width="1.15" height="95.6" fill="#dae4f3"/>
<rect x="148.44" y="528.6" width="4.21" height="95.6" fill="#cdb9b6"/>
<line x1="31.40" y1="576.40" x2="31.40" y2="574.74" stroke="#8a8658" stroke-width="0.8" opacity="0.8"/>
<line x1="33.86" y1="576.40" x2="33.86" y2="575.68" stroke="#8a8658" stroke-width="0.8" opacity="0.8"/>
<line x1="35.50" y1="576.40" x2="35.50" y2="578.65" stroke="#8a8658" stroke-width="0.8" opacity="0.8"/>
<line x1="37.14" y1="576.40" x2="37.14" y2="575.15" stroke="#8a8658" stroke-width="0.8" opacity="0.8"/>
<line x1="39.60" y1="576.40" x2="39.60" y2="574.27" stroke="#8a8658" stroke-width="0.8" opacity="0.8"/>
<line x1="41.24" y1="576.40" x2="41.24" y2="578.67" stroke="#8a8658" stroke-width="0.8" opacity="0.8"/>
<line x1="42.06" y1="576.40" x2="42.06" y2="574.30" stroke="#8a8658" stroke-width="0.8" opacity="0.8"/>
<line x1="42.88" y1="576.40" x2="42.88" y2="577.75" stroke="#8a8658" stroke-width="0.8" opacity="0.8"/>
<line x1="43.70" y1="576.40" x2="43.70" y2="578.65" stroke="#8a8658" stroke-width="0.8" opacity="0.8"/>
<line x1="45.34" y1="576.40" x2="45.34" y2="577.68" stroke="#8a8658" stroke-width="0.8" opacity="0.8"/>
<line x1="46.16" y1="576.40" x2="46.16" y2="577.74" stroke="#8a8658" stroke-width="0.8" opacity="0.8"/>
<line x1="46.98" y1="576.40" x2="46.98" y2="577.40" stroke="#8a8658" stroke-width="0.8" opacity="0.8"/>
<line x1="47.80" y1="576.40" x2="47.80" y2="574.79" stroke="#8a8658" stroke-width="0.8" opacity="0.8"/>
<line x1="50.26" y1="576.40" x2="50.26" y2="574.05" stroke="#8a8658" stroke-width="0.8" opacity="0.8"/>
<line x1="51.90" y1="576.40" x2="51.90" y2="577.20" stroke="#8a8658" stroke-width="0.8" opacity="0.8"/>
<line x1="55.18" y1="576.40" x2="55.18" y2="574.82" stroke="#8a8658" stroke-width="0.8" opacity="0.8"/>
<line x1="60.10" y1="576.40" x2="60.10" y2="577.38" stroke="#3c4c8e" stroke-width="0.8" opacity="0.8"/>
<line x1="61.74" y1="576.40" x2="61.74" y2="577.65" stroke="#3c4c8e" stroke-width="0.8" opacity="0.8"/>
<line x1="62.56" y1="576.40" x2="62.56" y2="575.62" stroke="#3c4c8e" stroke-width="0.8" opacity="0.8"/>
<line x1="65.02" y1="576.40" x2="65.02" y2="575.34" stroke="#3c4c8e" stroke-width="0.8" opacity="0.8"/>
<line x1="65.84" y1="576.40" x2="65.84" y2="576.81" stroke="#3c4c8e" stroke-width="0.8" opacity="0.8"/>
<line x1="66.66" y1="576.40" x2="66.66" y2="578.20" stroke="#3c4c8e" stroke-width="0.8" opacity="0.8"/>
<line x1="67.48" y1="576.40" x2="67.48" y2="575.62" stroke="#3c4c8e" stroke-width="0.8" opacity="0.8"/>
<line x1="69.94" y1="576.40" x2="69.94" y2="577.66" stroke="#3c4c8e" stroke-width="0.8" opacity="0.8"/>
<line x1="70.76" y1="576.40" x2="70.76" y2="574.56" stroke="#3c4c8e" stroke-width="0.8" opacity="0.8"/>
<line x1="72.40" y1="576.40" x2="72.40" y2="575.02" stroke="#3c4c8e" stroke-width="0.8" opacity="0.8"/>
<line x1="75.68" y1="576.40" x2="75.68" y2="577.72" stroke="#6e2444" stroke-width="0.8" opacity="0.8"/>
<line x1="76.50" y1="576.40" x2="76.50" y2="573.78" stroke="#6e2444" stroke-width="0.8" opacity="0.8"/>
<line x1="77.32" y1="576.40" x2="77.32" y2="574.77" stroke="#6e2444" stroke-width="0.8" opacity="0.8"/>
<line x1="82.24" y1="576.40" x2="82.24" y2="578.95" stroke="#6e2444" stroke-width="0.8" opacity="0.8"/>
<line x1="85.52" y1="576.40" x2="85.52" y2="577.22" stroke="#6e2444" stroke-width="0.8" opacity="0.8"/>
<line x1="88.80" y1="576.40" x2="88.80" y2="579.11" stroke="#6e2444" stroke-width="0.8" opacity="0.8"/>
<line x1="89.62" y1="576.40" x2="89.62" y2="578.25" stroke="#6e2444" stroke-width="0.8" opacity="0.8"/>
<line x1="94.54" y1="576.40" x2="94.54" y2="574.44" stroke="#6e2444" stroke-width="0.8" opacity="0.8"/>
<line x1="96.18" y1="576.40" x2="96.18" y2="579.17" stroke="#6e2444" stroke-width="0.8" opacity="0.8"/>
<line x1="97.00" y1="576.40" x2="97.00" y2="574.93" stroke="#6e2444" stroke-width="0.8" opacity="0.8"/>
<line x1="97.82" y1="576.40" x2="97.82" y2="578.64" stroke="#6e2444" stroke-width="0.8" opacity="0.8"/>
<line x1="99.46" y1="576.40" x2="99.46" y2="578.87" stroke="#6e2444" stroke-width="0.8" opacity="0.8"/>
<line x1="101.10" y1="576.40" x2="101.10" y2="577.70" stroke="#6e2444" stroke-width="0.8" opacity="0.8"/>
<line x1="102.74" y1="576.40" x2="102.74" y2="577.42" stroke="#6e2444" stroke-width="0.8" opacity="0.8"/>
<line x1="103.56" y1="576.40" x2="103.56" y2="579.13" stroke="#6e2444" stroke-width="0.8" opacity="0.8"/>
<line x1="104.38" y1="576.40" x2="104.38" y2="576.85" stroke="#6e2444" stroke-width="0.8" opacity="0.8"/>
<line x1="105.20" y1="576.40" x2="105.20" y2="578.64" stroke="#6e2444" stroke-width="0.8" opacity="0.8"/>
<line x1="106.84" y1="576.40" x2="106.84" y2="577.79" stroke="#4c7a4e" stroke-width="0.8" opacity="0.8"/>
<line x1="109.30" y1="576.40" x2="109.30" y2="578.70" stroke="#4c7a4e" stroke-width="0.8" opacity="0.8"/>
<line x1="110.12" y1="576.40" x2="110.12" y2="575.35" stroke="#4c7a4e" stroke-width="0.8" opacity="0.8"/>
<line x1="110.94" y1="576.40" x2="110.94" y2="575.42" stroke="#4c7a4e" stroke-width="0.8" opacity="0.8"/>
<line x1="112.58" y1="576.40" x2="112.58" y2="577.74" stroke="#4c7a4e" stroke-width="0.8" opacity="0.8"/>
<line x1="115.04" y1="576.40" x2="115.04" y2="577.72" stroke="#4c7a4e" stroke-width="0.8" opacity="0.8"/>
<line x1="117.50" y1="576.40" x2="117.50" y2="575.77" stroke="#4c7a4e" stroke-width="0.8" opacity="0.8"/>
<line x1="118.32" y1="576.40" x2="118.32" y2="577.36" stroke="#4c7a4e" stroke-width="0.8" opacity="0.8"/>
<line x1="120.78" y1="576.40" x2="120.78" y2="575.03" stroke="#8a7454" stroke-width="0.8" opacity="0.8"/>
<line x1="121.60" y1="576.40" x2="121.60" y2="574.72" stroke="#8a7454" stroke-width="0.8" opacity="0.8"/>
<line x1="123.24" y1="576.40" x2="123.24" y2="577.35" stroke="#8a7454" stroke-width="0.8" opacity="0.8"/>
<line x1="124.06" y1="576.40" x2="124.06" y2="574.95" stroke="#8a7454" stroke-width="0.8" opacity="0.8"/>
<line x1="124.88" y1="576.40" x2="124.88" y2="575.18" stroke="#8a7454" stroke-width="0.8" opacity="0.8"/>
<line x1="127.34" y1="576.40" x2="127.34" y2="574.99" stroke="#8a7454" stroke-width="0.8" opacity="0.8"/>
<line x1="129.80" y1="576.40" x2="129.80" y2="576.87" stroke="#8a7454" stroke-width="0.8" opacity="0.8"/>
<line x1="130.62" y1="576.40" x2="130.62" y2="577.53" stroke="#8a7454" stroke-width="0.8" opacity="0.8"/>
<line x1="132.26" y1="576.40" x2="132.26" y2="577.28" stroke="#8a6a72" stroke-width="0.8" opacity="0.8"/>
<line x1="133.08" y1="576.40" x2="133.08" y2="575.92" stroke="#8a6a72" stroke-width="0.8" opacity="0.8"/>
<line x1="134.72" y1="576.40" x2="134.72" y2="575.33" stroke="#8a6a72" stroke-width="0.8" opacity="0.8"/>
<line x1="136.36" y1="576.40" x2="136.36" y2="577.26" stroke="#8a6a72" stroke-width="0.8" opacity="0.8"/>
<line x1="137.18" y1="576.40" x2="137.18" y2="575.00" stroke="#8a6a72" stroke-width="0.8" opacity="0.8"/>
<line x1="138.82" y1="576.40" x2="138.82" y2="577.22" stroke="#8a6a72" stroke-width="0.8" opacity="0.8"/>
<line x1="142.10" y1="576.40" x2="142.10" y2="575.30" stroke="#8a6a72" stroke-width="0.8" opacity="0.8"/>
<line x1="143.74" y1="576.40" x2="143.74" y2="575.01" stroke="#8a6a72" stroke-width="0.8" opacity="0.8"/>
<line x1="144.56" y1="576.40" x2="144.56" y2="575.75" stroke="#8a6a72" stroke-width="0.8" opacity="0.8"/>
<line x1="145.38" y1="576.40" x2="145.38" y2="577.35" stroke="#8a6a72" stroke-width="0.8" opacity="0.8"/>
<line x1="147.02" y1="576.40" x2="147.02" y2="575.66" stroke="#8a6a72" stroke-width="0.8" opacity="0.8"/>
<line x1="150.30" y1="576.40" x2="150.30" y2="575.70" stroke="#6a5050" stroke-width="0.8" opacity="0.8"/>
<line x1="30.2" y1="576.4" x2="152.6" y2="576.4" stroke="#5a5a5a" stroke-width="0.7" />
<line x1="31.80" y1="576.40" x2="31.80" y2="570.66" stroke="#8a8658" stroke-width="0.9"/>
<line x1="33.20" y1="576.40" x2="33.20" y2="581.18" stroke="#8a8658" stroke-width="0.9"/>
<line x1="34.50" y1="576.40" x2="34.50" y2="582.14" stroke="#8a8658" stroke-width="0.9"/>
<line x1="35.40" y1="576.40" x2="35.40" y2="582.14" stroke="#8a8658" stroke-width="0.9"/>
<line x1="36.30" y1="576.40" x2="36.30" y2="582.14" stroke="#8a8658" stroke-width="0.9"/>
<line x1="37.20" y1="576.40" x2="37.20" y2="581.66" stroke="#8a8658" stroke-width="0.9"/>
<line x1="41.30" y1="576.40" x2="41.30" y2="573.05" stroke="#8a8658" stroke-width="0.9"/>
<line x1="42.70" y1="576.40" x2="42.70" y2="579.75" stroke="#8a8658" stroke-width="0.9"/>
<line x1="43.60" y1="576.40" x2="43.60" y2="573.53" stroke="#8a8658" stroke-width="0.9"/>
<line x1="45.40" y1="576.40" x2="45.40" y2="579.75" stroke="#8a8658" stroke-width="0.9"/>
<line x1="49.00" y1="576.40" x2="49.00" y2="571.62" stroke="#8a8658" stroke-width="0.9"/>
<line x1="50.30" y1="576.40" x2="50.30" y2="574.49" stroke="#8a8658" stroke-width="0.9"/>
<line x1="52.20" y1="576.40" x2="52.20" y2="583.09" stroke="#8a8658" stroke-width="0.9"/>
<line x1="52.20" y1="576.40" x2="52.20" y2="572.58" stroke="#8a8658" stroke-width="0.9"/>
<line x1="55.80" y1="576.40" x2="55.80" y2="579.27" stroke="#8a8658" stroke-width="0.9"/>
<line x1="61.20" y1="576.40" x2="61.20" y2="582.14" stroke="#3c4c8e" stroke-width="0.9"/>
<line x1="63.90" y1="576.40" x2="63.90" y2="574.49" stroke="#3c4c8e" stroke-width="0.9"/>
<line x1="64.80" y1="576.40" x2="64.80" y2="570.66" stroke="#3c4c8e" stroke-width="0.9"/>
<line x1="66.50" y1="576.40" x2="66.50" y2="567.80" stroke="#3c4c8e" stroke-width="0.9"/>
<line x1="67.80" y1="576.40" x2="67.80" y2="604.12" stroke="#3c4c8e" stroke-width="0.9"/>
<line x1="69.40" y1="576.40" x2="69.40" y2="574.49" stroke="#3c4c8e" stroke-width="0.9"/>
<line x1="70.30" y1="576.40" x2="70.30" y2="568.75" stroke="#3c4c8e" stroke-width="0.9"/>
<line x1="71.20" y1="576.40" x2="71.20" y2="591.70" stroke="#3c4c8e" stroke-width="0.9"/>
<line x1="75.20" y1="576.40" x2="75.20" y2="563.02" stroke="#6e2444" stroke-width="0.9"/>
<line x1="76.30" y1="576.40" x2="76.30" y2="556.32" stroke="#6e2444" stroke-width="0.9"/>
<line x1="77.40" y1="576.40" x2="77.40" y2="566.84" stroke="#6e2444" stroke-width="0.9"/>
<line x1="78.60" y1="576.40" x2="78.60" y2="566.84" stroke="#6e2444" stroke-width="0.9"/>
<line x1="79.50" y1="576.40" x2="79.50" y2="612.73" stroke="#6e2444" stroke-width="0.9"/>
<line x1="83.40" y1="576.40" x2="83.40" y2="571.62" stroke="#6e2444" stroke-width="0.9"/>
<line x1="84.30" y1="576.40" x2="84.30" y2="573.53" stroke="#6e2444" stroke-width="0.9"/>
<line x1="85.40" y1="576.40" x2="85.40" y2="564.93" stroke="#6e2444" stroke-width="0.9"/>
<line x1="86.10" y1="576.40" x2="86.10" y2="585.00" stroke="#6e2444" stroke-width="0.9"/>
<line x1="87.50" y1="576.40" x2="87.50" y2="538.16" stroke="#6e2444" stroke-width="0.9"/>
<line x1="88.40" y1="576.40" x2="88.40" y2="609.86" stroke="#6e2444" stroke-width="0.9"/>
<line x1="89.30" y1="576.40" x2="89.30" y2="580.70" stroke="#6e2444" stroke-width="1.6"/>
<line x1="90.30" y1="576.40" x2="90.30" y2="580.22" stroke="#6e2444" stroke-width="0.9"/>
<line x1="93.50" y1="576.40" x2="93.50" y2="550.59" stroke="#6e2444" stroke-width="0.9"/>
<line x1="94.50" y1="576.40" x2="94.50" y2="573.05" stroke="#6e2444" stroke-width="0.9"/>
<line x1="95.40" y1="576.40" x2="95.40" y2="579.75" stroke="#6e2444" stroke-width="0.9"/>
<line x1="98.00" y1="576.40" x2="98.00" y2="570.66" stroke="#6e2444" stroke-width="0.9"/>
<line x1="107.50" y1="576.40" x2="107.50" y2="574.01" stroke="#4c7a4e" stroke-width="0.9"/>
<line x1="110.60" y1="576.40" x2="110.60" y2="568.75" stroke="#4c7a4e" stroke-width="0.9"/>
<line x1="112.50" y1="576.40" x2="112.50" y2="567.80" stroke="#4c7a4e" stroke-width="0.9"/>
<line x1="113.10" y1="576.40" x2="113.10" y2="594.56" stroke="#4c7a4e" stroke-width="0.9"/>
<line x1="113.60" y1="576.40" x2="113.60" y2="558.24" stroke="#4c7a4e" stroke-width="0.9"/>
<line x1="114.50" y1="576.40" x2="114.50" y2="582.14" stroke="#4c7a4e" stroke-width="0.9"/>
<line x1="116.30" y1="576.40" x2="116.30" y2="585.00" stroke="#4c7a4e" stroke-width="0.9"/>
<line x1="117.00" y1="576.40" x2="117.00" y2="583.09" stroke="#4c7a4e" stroke-width="0.9"/>
<line x1="117.60" y1="576.40" x2="117.60" y2="545.81" stroke="#4c7a4e" stroke-width="0.9"/>
<line x1="118.50" y1="576.40" x2="118.50" y2="610.82" stroke="#4c7a4e" stroke-width="0.9"/>
<line x1="120.70" y1="576.40" x2="120.70" y2="579.75" stroke="#8a7454" stroke-width="0.9"/>
<line x1="129.70" y1="576.40" x2="129.70" y2="571.62" stroke="#8a7454" stroke-width="0.9"/>
<line x1="130.50" y1="576.40" x2="130.50" y2="581.66" stroke="#8a7454" stroke-width="0.9"/>
<line x1="131.60" y1="576.40" x2="131.60" y2="581.18" stroke="#8a7454" stroke-width="0.9"/>
<line x1="134.80" y1="576.40" x2="134.80" y2="572.10" stroke="#8a6a72" stroke-width="0.9"/>
<line x1="142.60" y1="576.40" x2="142.60" y2="585.96" stroke="#8a6a72" stroke-width="0.9"/>
<line x1="144.20" y1="576.40" x2="144.20" y2="567.80" stroke="#8a6a72" stroke-width="0.9"/>
<line x1="144.40" y1="576.40" x2="144.40" y2="585.96" stroke="#8a6a72" stroke-width="0.9"/>
<rect x="30.2" y="528.6" width="122.4" height="95.6" fill="none" stroke="#3a3a3a" stroke-width="0.9"/>
<line x1="30.2" y1="538.2" x2="31.7" y2="538.2" stroke="#3a3a3a" stroke-width="0.7" />
<line x1="151.1" y1="538.2" x2="152.6" y2="538.2" stroke="#3a3a3a" stroke-width="0.7" />
<text x="26.8" y="541.4" font-size="9.9" font-weight="normal" text-anchor="end" fill="#111" font-family='"Liberation Sans", sans-serif' >4</text>
<line x1="30.2" y1="557.3" x2="31.7" y2="557.3" stroke="#3a3a3a" stroke-width="0.7" />
<line x1="151.1" y1="557.3" x2="152.6" y2="557.3" stroke="#3a3a3a" stroke-width="0.7" />
<text x="26.8" y="560.5" font-size="9.9" font-weight="normal" text-anchor="end" fill="#111" font-family='"Liberation Sans", sans-serif' >2</text>
<line x1="30.2" y1="576.4" x2="31.7" y2="576.4" stroke="#3a3a3a" stroke-width="0.7" />
<line x1="151.1" y1="576.4" x2="152.6" y2="576.4" stroke="#3a3a3a" stroke-width="0.7" />
<text x="26.8" y="579.6" font-size="9.9" font-weight="normal" text-anchor="end" fill="#111" font-family='"Liberation Sans", sans-serif' >0</text>
<line x1="30.2" y1="595.5" x2="31.7" y2="595.5" stroke="#3a3a3a" stroke-width="0.7" />
<line x1="151.1" y1="595.5" x2="152.6" y2="595.5" stroke="#3a3a3a" stroke-width="0.7" />
<text x="26.8" y="598.7" font-size="9.9" font-weight="normal" text-anchor="end" fill="#111" font-family='"Liberation Sans", sans-serif' >-2</text>
<line x1="30.2" y1="614.6" x2="31.7" y2="614.6" stroke="#3a3a3a" stroke-width="0.7" />
<line x1="151.1" y1="614.6" x2="152.6" y2="614.6" stroke="#3a3a3a" stroke-width="0.7" />
<text x="26.8" y="617.8" font-size="9.9" font-weight="normal" text-anchor="end" fill="#111" font-family='"Liberation Sans", sans-serif' >-4</text>
<text x="75.7" y="541.2" font-size="10.0" font-weight="normal" text-anchor="start" fill="#111" font-family='"Liberation Sans", sans-serif' >76</text>
<text x="68.1" y="618.6" font-size="10.0" font-weight="normal" text-anchor="start" fill="#111" font-family='"Liberation Sans", sans-serif' >66</text>
<text x="89.9" y="618.0" font-size="10.0" font-weight="normal" text-anchor="start" fill="#111" font-family='"Liberation Sans", sans-serif' >77</text>
<text x="119.1" y="546.2" font-size="10.0" font-weight="normal" text-anchor="start" fill="#111" font-family='"Liberation Sans", sans-serif' >142</text>
<text x="119.9" y="618.0" font-size="10.0" font-weight="normal" text-anchor="start" fill="#111" font-family='"Liberation Sans", sans-serif' >143</text>
<text x="168.8" y="520.8" font-size="12.5" font-weight="bold" text-anchor="start" fill="#000" font-family='"Liberation Sans", sans-serif'  stroke="#000" stroke-width="0.3">k</text>
<text x="268.5" y="524.3" font-size="13" font-weight="normal" text-anchor="middle" fill="#111" font-family='"Liberation Sans", sans-serif' >Averaged period</text>
<text transform="translate(179.6,575.8) rotate(-90)" font-size="13.1" text-anchor="middle" font-family='"Liberation Sans", sans-serif' fill="#111">Sensitivity</text>
<rect x="206.90" y="528.3" width="26.49" height="96.1" fill="#f9f1bf"/>
<rect x="233.34" y="528.3" width="17.92" height="96.1" fill="#bcc5e2"/>
<rect x="251.21" y="528.3" width="32.12" height="96.1" fill="#edbcbd"/>
<rect x="283.28" y="528.3" width="14.00" height="96.1" fill="#d4e8c8"/>
<rect x="297.23" y="528.3" width="11.19" height="96.1" fill="#f5e0c0"/>
<rect x="308.37" y="528.3" width="15.72" height="96.1" fill="#f2dcdd"/>
<rect x="324.04" y="528.3" width="1.15" height="96.1" fill="#dae4f3"/>
<rect x="325.14" y="528.3" width="4.21" height="96.1" fill="#cdb9b6"/>
<line x1="209.74" y1="547.52" x2="209.74" y2="549.12" stroke="#8a8658" stroke-width="0.8" opacity="0.8"/>
<line x1="213.02" y1="547.52" x2="213.02" y2="547.11" stroke="#8a8658" stroke-width="0.8" opacity="0.8"/>
<line x1="216.30" y1="547.52" x2="216.30" y2="546.66" stroke="#8a8658" stroke-width="0.8" opacity="0.8"/>
<line x1="219.58" y1="547.52" x2="219.58" y2="549.30" stroke="#8a8658" stroke-width="0.8" opacity="0.8"/>
<line x1="221.22" y1="547.52" x2="221.22" y2="547.98" stroke="#8a8658" stroke-width="0.8" opacity="0.8"/>
<line x1="223.68" y1="547.52" x2="223.68" y2="549.35" stroke="#8a8658" stroke-width="0.8" opacity="0.8"/>
<line x1="224.50" y1="547.52" x2="224.50" y2="548.92" stroke="#8a8658" stroke-width="0.8" opacity="0.8"/>
<line x1="225.32" y1="547.52" x2="225.32" y2="545.60" stroke="#8a8658" stroke-width="0.8" opacity="0.8"/>
<line x1="226.96" y1="547.52" x2="226.96" y2="546.01" stroke="#8a8658" stroke-width="0.8" opacity="0.8"/>
<line x1="231.88" y1="547.52" x2="231.88" y2="545.67" stroke="#8a8658" stroke-width="0.8" opacity="0.8"/>
<line x1="233.52" y1="547.52" x2="233.52" y2="546.54" stroke="#3c4c8e" stroke-width="0.8" opacity="0.8"/>
<line x1="235.98" y1="547.52" x2="235.98" y2="545.89" stroke="#3c4c8e" stroke-width="0.8" opacity="0.8"/>
<line x1="236.80" y1="547.52" x2="236.80" y2="546.25" stroke="#3c4c8e" stroke-width="0.8" opacity="0.8"/>
<line x1="237.62" y1="547.52" x2="237.62" y2="546.05" stroke="#3c4c8e" stroke-width="0.8" opacity="0.8"/>
<line x1="241.72" y1="547.52" x2="241.72" y2="548.59" stroke="#3c4c8e" stroke-width="0.8" opacity="0.8"/>
<line x1="242.54" y1="547.52" x2="242.54" y2="546.75" stroke="#3c4c8e" stroke-width="0.8" opacity="0.8"/>
<line x1="243.36" y1="547.52" x2="243.36" y2="545.95" stroke="#3c4c8e" stroke-width="0.8" opacity="0.8"/>
<line x1="244.18" y1="547.52" x2="244.18" y2="545.94" stroke="#3c4c8e" stroke-width="0.8" opacity="0.8"/>
<line x1="245.00" y1="547.52" x2="245.00" y2="545.76" stroke="#3c4c8e" stroke-width="0.8" opacity="0.8"/>
<line x1="249.10" y1="547.52" x2="249.10" y2="548.64" stroke="#3c4c8e" stroke-width="0.8" opacity="0.8"/>
<line x1="249.92" y1="547.52" x2="249.92" y2="545.85" stroke="#3c4c8e" stroke-width="0.8" opacity="0.8"/>
<line x1="251.56" y1="547.52" x2="251.56" y2="546.29" stroke="#6e2444" stroke-width="0.8" opacity="0.8"/>
<line x1="254.02" y1="547.52" x2="254.02" y2="546.58" stroke="#6e2444" stroke-width="0.8" opacity="0.8"/>
<line x1="254.84" y1="547.52" x2="254.84" y2="546.93" stroke="#6e2444" stroke-width="0.8" opacity="0.8"/>
<line x1="255.66" y1="547.52" x2="255.66" y2="548.57" stroke="#6e2444" stroke-width="0.8" opacity="0.8"/>
<line x1="258.94" y1="547.52" x2="258.94" y2="548.63" stroke="#6e2444" stroke-width="0.8" opacity="0.8"/>
<line x1="260.58" y1="547.52" x2="260.58" y2="546.69" stroke="#6e2444" stroke-width="0.8" opacity="0.8"/>
<line x1="261.40" y1="547.52" x2="261.40" y2="548.05" stroke="#6e2444" stroke-width="0.8" opacity="0.8"/>
<line x1="262.22" y1="547.52" x2="262.22" y2="546.86" stroke="#6e2444" stroke-width="0.8" opacity="0.8"/>
<line x1="263.04" y1="547.52" x2="263.04" y2="545.77" stroke="#6e2444" stroke-width="0.8" opacity="0.8"/>
<line x1="263.86" y1="547.52" x2="263.86" y2="546.64" stroke="#6e2444" stroke-width="0.8" opacity="0.8"/>
<line x1="264.68" y1="547.52" x2="264.68" y2="548.46" stroke="#6e2444" stroke-width="0.8" opacity="0.8"/>
<line x1="266.32" y1="547.52" x2="266.32" y2="548.74" stroke="#6e2444" stroke-width="0.8" opacity="0.8"/>
<line x1="267.96" y1="547.52" x2="267.96" y2="549.28" stroke="#6e2444" stroke-width="0.8" opacity="0.8"/>
<line x1="269.60" y1="547.52" x2="269.60" y2="549.30" stroke="#6e2444" stroke-width="0.8" opacity="0.8"/>
<line x1="270.42" y1="547.52" x2="270.42" y2="547.08" stroke="#6e2444" stroke-width="0.8" opacity="0.8"/>
<line x1="272.06" y1="547.52" x2="272.06" y2="548.15" stroke="#6e2444" stroke-width="0.8" opacity="0.8"/>
<line x1="278.62" y1="547.52" x2="278.62" y2="548.58" stroke="#6e2444" stroke-width="0.8" opacity="0.8"/>
<line x1="280.26" y1="547.52" x2="280.26" y2="549.05" stroke="#6e2444" stroke-width="0.8" opacity="0.8"/>
<line x1="281.08" y1="547.52" x2="281.08" y2="546.08" stroke="#6e2444" stroke-width="0.8" opacity="0.8"/>
<line x1="283.54" y1="547.52" x2="283.54" y2="545.75" stroke="#4c7a4e" stroke-width="0.8" opacity="0.8"/>
<line x1="284.36" y1="547.52" x2="284.36" y2="547.11" stroke="#4c7a4e" stroke-width="0.8" opacity="0.8"/>
<line x1="285.18" y1="547.52" x2="285.18" y2="549.37" stroke="#4c7a4e" stroke-width="0.8" opacity="0.8"/>
<line x1="286.82" y1="547.52" x2="286.82" y2="549.22" stroke="#4c7a4e" stroke-width="0.8" opacity="0.8"/>
<line x1="287.64" y1="547.52" x2="287.64" y2="548.82" stroke="#4c7a4e" stroke-width="0.8" opacity="0.8"/>
<line x1="288.46" y1="547.52" x2="288.46" y2="547.00" stroke="#4c7a4e" stroke-width="0.8" opacity="0.8"/>
<line x1="289.28" y1="547.52" x2="289.28" y2="545.66" stroke="#4c7a4e" stroke-width="0.8" opacity="0.8"/>
<line x1="296.66" y1="547.52" x2="296.66" y2="549.42" stroke="#4c7a4e" stroke-width="0.8" opacity="0.8"/>
<line x1="298.30" y1="547.52" x2="298.30" y2="547.09" stroke="#8a7454" stroke-width="0.8" opacity="0.8"/>
<line x1="299.12" y1="547.52" x2="299.12" y2="548.29" stroke="#8a7454" stroke-width="0.8" opacity="0.8"/>
<line x1="299.94" y1="547.52" x2="299.94" y2="548.04" stroke="#8a7454" stroke-width="0.8" opacity="0.8"/>
<line x1="303.22" y1="547.52" x2="303.22" y2="546.74" stroke="#8a7454" stroke-width="0.8" opacity="0.8"/>
<line x1="308.14" y1="547.52" x2="308.14" y2="548.13" stroke="#8a7454" stroke-width="0.8" opacity="0.8"/>
<line x1="308.96" y1="547.52" x2="308.96" y2="546.94" stroke="#8a6a72" stroke-width="0.8" opacity="0.8"/>
<line x1="312.24" y1="547.52" x2="312.24" y2="546.59" stroke="#8a6a72" stroke-width="0.8" opacity="0.8"/>
<line x1="313.06" y1="547.52" x2="313.06" y2="548.44" stroke="#8a6a72" stroke-width="0.8" opacity="0.8"/>
<line x1="319.62" y1="547.52" x2="319.62" y2="547.93" stroke="#8a6a72" stroke-width="0.8" opacity="0.8"/>
<line x1="320.44" y1="547.52" x2="320.44" y2="546.68" stroke="#8a6a72" stroke-width="0.8" opacity="0.8"/>
<line x1="321.26" y1="547.52" x2="321.26" y2="547.03" stroke="#8a6a72" stroke-width="0.8" opacity="0.8"/>
<line x1="324.54" y1="547.52" x2="324.54" y2="548.25" stroke="#5a6a8a" stroke-width="0.8" opacity="0.8"/>
<line x1="325.36" y1="547.52" x2="325.36" y2="548.33" stroke="#6a5050" stroke-width="0.8" opacity="0.8"/>
<line x1="206.9" y1="547.5" x2="329.3" y2="547.5" stroke="#5a5a5a" stroke-width="0.7" />
<line x1="208.50" y1="547.52" x2="208.50" y2="543.68" stroke="#8a8658" stroke-width="0.9"/>
<line x1="209.40" y1="547.52" x2="209.40" y2="544.64" stroke="#8a8658" stroke-width="0.9"/>
<line x1="211.40" y1="547.52" x2="211.40" y2="552.32" stroke="#8a8658" stroke-width="0.9"/>
<line x1="212.90" y1="547.52" x2="212.90" y2="552.32" stroke="#8a8658" stroke-width="0.9"/>
<line x1="218.00" y1="547.52" x2="218.00" y2="545.60" stroke="#8a8658" stroke-width="0.9"/>
<line x1="220.00" y1="547.52" x2="220.00" y2="549.44" stroke="#8a8658" stroke-width="0.9"/>
<line x1="225.80" y1="547.52" x2="225.80" y2="544.64" stroke="#8a8658" stroke-width="0.9"/>
<line x1="228.80" y1="547.52" x2="228.80" y2="545.60" stroke="#8a8658" stroke-width="0.9"/>
<line x1="229.60" y1="547.52" x2="229.60" y2="553.29" stroke="#8a8658" stroke-width="0.9"/>
<line x1="237.20" y1="547.52" x2="237.20" y2="551.36" stroke="#3c4c8e" stroke-width="0.9"/>
<line x1="241.50" y1="547.52" x2="241.50" y2="543.68" stroke="#3c4c8e" stroke-width="0.9"/>
<line x1="242.50" y1="547.52" x2="242.50" y2="543.68" stroke="#3c4c8e" stroke-width="0.9"/>
<line x1="244.60" y1="547.52" x2="244.60" y2="576.35" stroke="#3c4c8e" stroke-width="0.9"/>
<line x1="245.60" y1="547.52" x2="245.60" y2="544.64" stroke="#3c4c8e" stroke-width="0.9"/>
<line x1="247.60" y1="547.52" x2="247.60" y2="560.01" stroke="#3c4c8e" stroke-width="0.9"/>
<line x1="251.00" y1="547.52" x2="251.00" y2="545.60" stroke="#3c4c8e" stroke-width="0.9"/>
<line x1="252.50" y1="547.52" x2="252.50" y2="539.83" stroke="#6e2444" stroke-width="0.9"/>
<line x1="253.50" y1="547.52" x2="253.50" y2="542.71" stroke="#6e2444" stroke-width="0.9"/>
<line x1="255.00" y1="547.52" x2="255.00" y2="543.68" stroke="#6e2444" stroke-width="0.9"/>
<line x1="256.30" y1="547.52" x2="256.30" y2="588.84" stroke="#6e2444" stroke-width="0.9"/>
<line x1="256.60" y1="547.52" x2="256.60" y2="568.66" stroke="#6e2444" stroke-width="1.6"/>
<line x1="261.00" y1="547.52" x2="261.00" y2="545.60" stroke="#6e2444" stroke-width="0.9"/>
<line x1="262.00" y1="547.52" x2="262.00" y2="541.75" stroke="#6e2444" stroke-width="0.9"/>
<line x1="262.40" y1="547.52" x2="262.40" y2="554.25" stroke="#6e2444" stroke-width="0.9"/>
<line x1="264.20" y1="547.52" x2="264.20" y2="539.83" stroke="#6e2444" stroke-width="0.9"/>
<line x1="264.70" y1="547.52" x2="264.70" y2="575.39" stroke="#6e2444" stroke-width="0.9"/>
<line x1="266.40" y1="547.52" x2="266.40" y2="560.01" stroke="#6e2444" stroke-width="0.9"/>
<line x1="266.90" y1="547.52" x2="266.90" y2="574.43" stroke="#6e2444" stroke-width="0.9"/>
<line x1="270.50" y1="547.52" x2="270.50" y2="537.91" stroke="#6e2444" stroke-width="0.9"/>
<line x1="272.00" y1="547.52" x2="272.00" y2="545.60" stroke="#6e2444" stroke-width="0.9"/>
<line x1="274.00" y1="547.52" x2="274.00" y2="548.48" stroke="#6e2444" stroke-width="0.9"/>
<line x1="283.80" y1="547.52" x2="283.80" y2="543.68" stroke="#4c7a4e" stroke-width="0.9"/>
<line x1="287.40" y1="547.52" x2="287.40" y2="538.87" stroke="#4c7a4e" stroke-width="0.9"/>
<line x1="288.80" y1="547.52" x2="288.80" y2="538.87" stroke="#4c7a4e" stroke-width="0.9"/>
<line x1="289.90" y1="547.52" x2="289.90" y2="561.93" stroke="#4c7a4e" stroke-width="0.9"/>
<line x1="290.50" y1="547.52" x2="290.50" y2="540.79" stroke="#4c7a4e" stroke-width="0.9"/>
<line x1="291.70" y1="547.52" x2="291.70" y2="582.12" stroke="#4c7a4e" stroke-width="0.9"/>
<line x1="292.70" y1="547.52" x2="292.70" y2="601.34" stroke="#4c7a4e" stroke-width="0.9"/>
<line x1="293.90" y1="547.52" x2="293.90" y2="564.82" stroke="#4c7a4e" stroke-width="0.9"/>
<line x1="294.90" y1="547.52" x2="294.90" y2="615.75" stroke="#4c7a4e" stroke-width="0.9"/>
<line x1="295.80" y1="547.52" x2="295.80" y2="552.32" stroke="#4c7a4e" stroke-width="0.9"/>
<line x1="296.50" y1="547.52" x2="296.50" y2="553.29" stroke="#4c7a4e" stroke-width="0.9"/>
<line x1="303.30" y1="547.52" x2="303.30" y2="546.56" stroke="#8a7454" stroke-width="0.9"/>
<line x1="306.90" y1="547.52" x2="306.90" y2="543.68" stroke="#8a7454" stroke-width="0.9"/>
<line x1="307.20" y1="547.52" x2="307.20" y2="552.32" stroke="#8a7454" stroke-width="0.9"/>
<line x1="311.20" y1="547.52" x2="311.20" y2="544.64" stroke="#8a6a72" stroke-width="0.9"/>
<line x1="314.90" y1="547.52" x2="314.90" y2="545.60" stroke="#8a6a72" stroke-width="0.9"/>
<line x1="319.90" y1="547.52" x2="319.90" y2="542.71" stroke="#8a6a72" stroke-width="0.9"/>
<line x1="320.20" y1="547.52" x2="320.20" y2="554.25" stroke="#8a6a72" stroke-width="0.9"/>
<line x1="321.80" y1="547.52" x2="321.80" y2="550.40" stroke="#8a6a72" stroke-width="0.9"/>
<rect x="206.9" y="528.3" width="122.4" height="96.1" fill="none" stroke="#3a3a3a" stroke-width="0.9"/>
<line x1="206.9" y1="528.3" x2="208.4" y2="528.3" stroke="#3a3a3a" stroke-width="0.7" />
<line x1="327.8" y1="528.3" x2="329.3" y2="528.3" stroke="#3a3a3a" stroke-width="0.7" />
<text x="203.5" y="531.5" font-size="9.9" font-weight="normal" text-anchor="end" fill="#111" font-family='"Liberation Sans", sans-serif' >0.2</text>
<line x1="206.9" y1="547.5" x2="208.4" y2="547.5" stroke="#3a3a3a" stroke-width="0.7" />
<line x1="327.8" y1="547.5" x2="329.3" y2="547.5" stroke="#3a3a3a" stroke-width="0.7" />
<text x="203.5" y="550.7" font-size="9.9" font-weight="normal" text-anchor="end" fill="#111" font-family='"Liberation Sans", sans-serif' >0</text>
<line x1="206.9" y1="566.7" x2="208.4" y2="566.7" stroke="#3a3a3a" stroke-width="0.7" />
<line x1="327.8" y1="566.7" x2="329.3" y2="566.7" stroke="#3a3a3a" stroke-width="0.7" />
<text x="203.5" y="569.9" font-size="9.9" font-weight="normal" text-anchor="end" fill="#111" font-family='"Liberation Sans", sans-serif' >-0.2</text>
<line x1="206.9" y1="586.0" x2="208.4" y2="586.0" stroke="#3a3a3a" stroke-width="0.7" />
<line x1="327.8" y1="586.0" x2="329.3" y2="586.0" stroke="#3a3a3a" stroke-width="0.7" />
<text x="203.5" y="589.2" font-size="9.9" font-weight="normal" text-anchor="end" fill="#111" font-family='"Liberation Sans", sans-serif' >-0.4</text>
<line x1="206.9" y1="605.2" x2="208.4" y2="605.2" stroke="#3a3a3a" stroke-width="0.7" />
<line x1="327.8" y1="605.2" x2="329.3" y2="605.2" stroke="#3a3a3a" stroke-width="0.7" />
<text x="203.5" y="608.4" font-size="9.9" font-weight="normal" text-anchor="end" fill="#111" font-family='"Liberation Sans", sans-serif' >-0.6</text>
<line x1="206.9" y1="624.4" x2="208.4" y2="624.4" stroke="#3a3a3a" stroke-width="0.7" />
<line x1="327.8" y1="624.4" x2="329.3" y2="624.4" stroke="#3a3a3a" stroke-width="0.7" />
<text x="203.5" y="627.6" font-size="9.9" font-weight="normal" text-anchor="end" fill="#111" font-family='"Liberation Sans", sans-serif' >-0.8</text>
<text x="232.7" y="583.2" font-size="10.0" font-weight="normal" text-anchor="start" fill="#111" font-family='"Liberation Sans", sans-serif' >50</text>
<text x="245.5" y="596.6" font-size="10.0" font-weight="normal" text-anchor="start" fill="#111" font-family='"Liberation Sans", sans-serif' >66</text>
<text x="274.3" y="589.0" font-size="10.0" font-weight="normal" text-anchor="start" fill="#111" font-family='"Liberation Sans", sans-serif' >132</text>
<text x="275.3" y="608.6" font-size="10.0" font-weight="normal" text-anchor="start" fill="#111" font-family='"Liberation Sans", sans-serif' >140</text>
<text x="297.1" y="620.6" font-size="10.0" font-weight="normal" text-anchor="start" fill="#111" font-family='"Liberation Sans", sans-serif' >143</text>
<text x="345.6" y="521.0" font-size="12.5" font-weight="bold" text-anchor="start" fill="#000" font-family='"Liberation Sans", sans-serif'  stroke="#000" stroke-width="0.3">l</text>
<text x="440.3" y="524.3" font-size="13" font-weight="normal" text-anchor="middle" fill="#111" font-family='"Liberation Sans", sans-serif' >Hill coefficient</text>
<text transform="translate(356.6,575.8) rotate(-90)" font-size="13.1" text-anchor="middle" font-family='"Liberation Sans", sans-serif' fill="#111">Sensitivity</text>
<rect x="375.50" y="528.0" width="26.53" height="96.3" fill="#f9f1bf"/>
<rect x="401.98" y="528.0" width="17.95" height="96.3" fill="#bcc5e2"/>
<rect x="419.88" y="528.0" width="32.17" height="96.3" fill="#edbcbd"/>
<rect x="452.00" y="528.0" width="14.03" height="96.3" fill="#d4e8c8"/>
<rect x="465.98" y="528.0" width="11.21" height="96.3" fill="#f5e0c0"/>
<rect x="477.14" y="528.0" width="15.74" height="96.3" fill="#f2dcdd"/>
<rect x="492.83" y="528.0" width="1.15" height="96.3" fill="#dae4f3"/>
<rect x="493.93" y="528.0" width="4.22" height="96.3" fill="#cdb9b6"/>
<line x1="379.16" y1="576.15" x2="379.16" y2="577.32" stroke="#8a8658" stroke-width="0.8" opacity="0.8"/>
<line x1="380.80" y1="576.15" x2="380.80" y2="576.79" stroke="#8a8658" stroke-width="0.8" opacity="0.8"/>
<line x1="382.44" y1="576.15" x2="382.44" y2="575.34" stroke="#8a8658" stroke-width="0.8" opacity="0.8"/>
<line x1="385.72" y1="576.15" x2="385.72" y2="575.57" stroke="#8a8658" stroke-width="0.8" opacity="0.8"/>
<line x1="387.36" y1="576.15" x2="387.36" y2="575.53" stroke="#8a8658" stroke-width="0.8" opacity="0.8"/>
<line x1="389.00" y1="576.15" x2="389.00" y2="577.28" stroke="#8a8658" stroke-width="0.8" opacity="0.8"/>
<line x1="390.64" y1="576.15" x2="390.64" y2="575.62" stroke="#8a8658" stroke-width="0.8" opacity="0.8"/>
<line x1="393.92" y1="576.15" x2="393.92" y2="575.43" stroke="#8a8658" stroke-width="0.8" opacity="0.8"/>
<line x1="394.74" y1="576.15" x2="394.74" y2="575.10" stroke="#8a8658" stroke-width="0.8" opacity="0.8"/>
<line x1="396.38" y1="576.15" x2="396.38" y2="577.03" stroke="#8a8658" stroke-width="0.8" opacity="0.8"/>
<line x1="397.20" y1="576.15" x2="397.20" y2="575.03" stroke="#8a8658" stroke-width="0.8" opacity="0.8"/>
<line x1="407.04" y1="576.15" x2="407.04" y2="575.57" stroke="#3c4c8e" stroke-width="0.8" opacity="0.8"/>
<line x1="411.14" y1="576.15" x2="411.14" y2="575.62" stroke="#3c4c8e" stroke-width="0.8" opacity="0.8"/>
<line x1="412.78" y1="576.15" x2="412.78" y2="576.85" stroke="#3c4c8e" stroke-width="0.8" opacity="0.8"/>
<line x1="415.24" y1="576.15" x2="415.24" y2="575.67" stroke="#3c4c8e" stroke-width="0.8" opacity="0.8"/>
<line x1="416.06" y1="576.15" x2="416.06" y2="576.71" stroke="#3c4c8e" stroke-width="0.8" opacity="0.8"/>
<line x1="416.88" y1="576.15" x2="416.88" y2="575.72" stroke="#3c4c8e" stroke-width="0.8" opacity="0.8"/>
<line x1="420.16" y1="576.15" x2="420.16" y2="575.54" stroke="#6e2444" stroke-width="0.8" opacity="0.8"/>
<line x1="421.80" y1="576.15" x2="421.80" y2="575.35" stroke="#6e2444" stroke-width="0.8" opacity="0.8"/>
<line x1="422.62" y1="576.15" x2="422.62" y2="576.83" stroke="#6e2444" stroke-width="0.8" opacity="0.8"/>
<line x1="424.26" y1="576.15" x2="424.26" y2="576.64" stroke="#6e2444" stroke-width="0.8" opacity="0.8"/>
<line x1="425.90" y1="576.15" x2="425.90" y2="576.88" stroke="#6e2444" stroke-width="0.8" opacity="0.8"/>
<line x1="427.54" y1="576.15" x2="427.54" y2="575.41" stroke="#6e2444" stroke-width="0.8" opacity="0.8"/>
<line x1="444.76" y1="576.15" x2="444.76" y2="576.86" stroke="#6e2444" stroke-width="0.8" opacity="0.8"/>
<line x1="375.5" y1="576.1" x2="498.1" y2="576.1" stroke="#5a5a5a" stroke-width="0.7" />
<line x1="378.00" y1="576.15" x2="378.00" y2="573.74" stroke="#8a8658" stroke-width="0.9"/>
<line x1="379.00" y1="576.15" x2="379.00" y2="578.56" stroke="#8a8658" stroke-width="0.9"/>
<line x1="380.00" y1="576.15" x2="380.00" y2="573.34" stroke="#8a8658" stroke-width="0.9"/>
<line x1="382.00" y1="576.15" x2="382.00" y2="577.75" stroke="#8a8658" stroke-width="0.9"/>
<line x1="384.00" y1="576.15" x2="384.00" y2="574.54" stroke="#8a8658" stroke-width="0.9"/>
<line x1="386.00" y1="576.15" x2="386.00" y2="578.56" stroke="#8a8658" stroke-width="0.9"/>
<line x1="388.70" y1="576.15" x2="388.70" y2="579.76" stroke="#8a8658" stroke-width="0.9"/>
<line x1="390.00" y1="576.15" x2="390.00" y2="574.95" stroke="#8a8658" stroke-width="0.9"/>
<line x1="393.80" y1="576.15" x2="393.80" y2="580.96" stroke="#8a8658" stroke-width="0.9"/>
<line x1="395.00" y1="576.15" x2="395.00" y2="574.54" stroke="#8a8658" stroke-width="0.9"/>
<line x1="397.40" y1="576.15" x2="397.40" y2="580.56" stroke="#8a8658" stroke-width="0.9"/>
<line x1="399.00" y1="576.15" x2="399.00" y2="574.54" stroke="#8a8658" stroke-width="0.9"/>
<line x1="406.50" y1="576.15" x2="406.50" y2="574.54" stroke="#3c4c8e" stroke-width="0.9"/>
<line x1="409.00" y1="576.15" x2="409.00" y2="580.16" stroke="#3c4c8e" stroke-width="0.9"/>
<line x1="410.40" y1="576.15" x2="410.40" y2="586.58" stroke="#3c4c8e" stroke-width="0.9"/>
<line x1="411.60" y1="576.15" x2="411.60" y2="594.61" stroke="#3c4c8e" stroke-width="0.9"/>
<line x1="412.90" y1="576.15" x2="412.90" y2="559.30" stroke="#3c4c8e" stroke-width="1.5"/>
<line x1="413.30" y1="576.15" x2="413.30" y2="559.30" stroke="#3c4c8e" stroke-width="0.9"/>
<line x1="415.50" y1="576.15" x2="415.50" y2="580.16" stroke="#3c4c8e" stroke-width="0.9"/>
<line x1="418.40" y1="576.15" x2="418.40" y2="574.54" stroke="#3c4c8e" stroke-width="0.9"/>
<line x1="420.50" y1="576.15" x2="420.50" y2="580.96" stroke="#6e2444" stroke-width="0.9"/>
<line x1="421.50" y1="576.15" x2="421.50" y2="584.17" stroke="#6e2444" stroke-width="0.9"/>
<line x1="422.50" y1="576.15" x2="422.50" y2="587.38" stroke="#6e2444" stroke-width="0.9"/>
<line x1="423.40" y1="576.15" x2="423.40" y2="582.57" stroke="#6e2444" stroke-width="0.9"/>
<line x1="424.40" y1="576.15" x2="424.40" y2="565.72" stroke="#6e2444" stroke-width="0.9"/>
<line x1="425.60" y1="576.15" x2="425.60" y2="539.24" stroke="#6e2444" stroke-width="0.9"/>
<line x1="427.00" y1="576.15" x2="427.00" y2="578.56" stroke="#6e2444" stroke-width="0.9"/>
<line x1="428.50" y1="576.15" x2="428.50" y2="572.94" stroke="#6e2444" stroke-width="0.9"/>
<line x1="430.20" y1="576.15" x2="430.20" y2="584.98" stroke="#6e2444" stroke-width="0.9"/>
<line x1="431.40" y1="576.15" x2="431.40" y2="570.53" stroke="#6e2444" stroke-width="0.9"/>
<line x1="432.80" y1="576.15" x2="432.80" y2="621.09" stroke="#6e2444" stroke-width="0.9"/>
<line x1="433.50" y1="576.15" x2="433.50" y2="548.87" stroke="#6e2444" stroke-width="0.9"/>
<line x1="434.60" y1="576.15" x2="434.60" y2="589.79" stroke="#6e2444" stroke-width="0.9"/>
<line x1="435.70" y1="576.15" x2="435.70" y2="578.56" stroke="#6e2444" stroke-width="0.9"/>
<line x1="438.60" y1="576.15" x2="438.60" y2="573.74" stroke="#6e2444" stroke-width="0.9"/>
<line x1="457.00" y1="576.15" x2="457.00" y2="574.54" stroke="#4c7a4e" stroke-width="0.9"/>
<line x1="458.30" y1="576.15" x2="458.30" y2="578.56" stroke="#4c7a4e" stroke-width="0.9"/>
<line x1="459.30" y1="576.15" x2="459.30" y2="574.14" stroke="#4c7a4e" stroke-width="0.9"/>
<line x1="461.50" y1="576.15" x2="461.50" y2="581.77" stroke="#4c7a4e" stroke-width="0.9"/>
<line x1="462.80" y1="576.15" x2="462.80" y2="569.73" stroke="#4c7a4e" stroke-width="0.9"/>
<line x1="463.50" y1="576.15" x2="463.50" y2="582.97" stroke="#4c7a4e" stroke-width="0.9"/>
<line x1="475.90" y1="576.15" x2="475.90" y2="575.35" stroke="#8a7454" stroke-width="0.9"/>
<line x1="480.30" y1="576.15" x2="480.30" y2="575.35" stroke="#8a6a72" stroke-width="0.9"/>
<line x1="487.60" y1="576.15" x2="487.60" y2="576.95" stroke="#8a6a72" stroke-width="0.9"/>
<line x1="489.60" y1="576.15" x2="489.60" y2="573.74" stroke="#8a6a72" stroke-width="0.9"/>
<rect x="375.5" y="528.0" width="122.6" height="96.3" fill="none" stroke="#3a3a3a" stroke-width="0.9"/>
<line x1="375.5" y1="528.0" x2="377.0" y2="528.0" stroke="#3a3a3a" stroke-width="0.7" />
<line x1="496.6" y1="528.0" x2="498.1" y2="528.0" stroke="#3a3a3a" stroke-width="0.7" />
<text x="372.1" y="531.2" font-size="9.9" font-weight="normal" text-anchor="end" fill="#111" font-family='"Liberation Sans", sans-serif' >6</text>
<line x1="375.5" y1="544.0" x2="377.0" y2="544.0" stroke="#3a3a3a" stroke-width="0.7" />
<line x1="496.6" y1="544.0" x2="498.1" y2="544.0" stroke="#3a3a3a" stroke-width="0.7" />
<text x="372.1" y="547.2" font-size="9.9" font-weight="normal" text-anchor="end" fill="#111" font-family='"Liberation Sans", sans-serif' >4</text>
<line x1="375.5" y1="560.1" x2="377.0" y2="560.1" stroke="#3a3a3a" stroke-width="0.7" />
<line x1="496.6" y1="560.1" x2="498.1" y2="560.1" stroke="#3a3a3a" stroke-width="0.7" />
<text x="372.1" y="563.3" font-size="9.9" font-weight="normal" text-anchor="end" fill="#111" font-family='"Liberation Sans", sans-serif' >2</text>
<line x1="375.5" y1="576.1" x2="377.0" y2="576.1" stroke="#3a3a3a" stroke-width="0.7" />
<line x1="496.6" y1="576.1" x2="498.1" y2="576.1" stroke="#3a3a3a" stroke-width="0.7" />
<text x="372.1" y="579.4" font-size="9.9" font-weight="normal" text-anchor="end" fill="#111" font-family='"Liberation Sans", sans-serif' >0</text>
<line x1="375.5" y1="592.2" x2="377.0" y2="592.2" stroke="#3a3a3a" stroke-width="0.7" />
<line x1="496.6" y1="592.2" x2="498.1" y2="592.2" stroke="#3a3a3a" stroke-width="0.7" />
<text x="372.1" y="595.4" font-size="9.9" font-weight="normal" text-anchor="end" fill="#111" font-family='"Liberation Sans", sans-serif' >-2</text>
<line x1="375.5" y1="608.2" x2="377.0" y2="608.2" stroke="#3a3a3a" stroke-width="0.7" />
<line x1="496.6" y1="608.2" x2="498.1" y2="608.2" stroke="#3a3a3a" stroke-width="0.7" />
<text x="372.1" y="611.5" font-size="9.9" font-weight="normal" text-anchor="end" fill="#111" font-family='"Liberation Sans", sans-serif' >-4</text>
<line x1="375.5" y1="624.3" x2="377.0" y2="624.3" stroke="#3a3a3a" stroke-width="0.7" />
<line x1="496.6" y1="624.3" x2="498.1" y2="624.3" stroke="#3a3a3a" stroke-width="0.7" />
<text x="372.1" y="627.5" font-size="9.9" font-weight="normal" text-anchor="end" fill="#111" font-family='"Liberation Sans", sans-serif' >-6</text>
<text x="413.3" y="542.2" font-size="10.0" font-weight="normal" text-anchor="start" fill="#111" font-family='"Liberation Sans", sans-serif' >66</text>
<text x="436.3" y="551.6" font-size="10.0" font-weight="normal" text-anchor="start" fill="#111" font-family='"Liberation Sans", sans-serif' >77</text>
<text x="401.9" y="557.6" font-size="10.0" font-weight="normal" text-anchor="start" fill="#111" font-family='"Liberation Sans", sans-serif' >50</text>
<text x="399.7" y="602.5" font-size="10.0" font-weight="normal" text-anchor="start" fill="#111" font-family='"Liberation Sans", sans-serif' >48</text>
<text x="420.1" y="620.4" font-size="10.0" font-weight="normal" text-anchor="start" fill="#111" font-family='"Liberation Sans", sans-serif' >76</text>
<text x="514.8" y="521.4" font-size="12.5" font-weight="bold" text-anchor="start" fill="#000" font-family='"Liberation Sans", sans-serif'  stroke="#000" stroke-width="0.3">m</text>
<text x="610.6" y="524.3" font-size="13" font-weight="normal" text-anchor="middle" fill="#111" font-family='"Liberation Sans", sans-serif' >EC50</text>
<text transform="translate(524.7,575.8) rotate(-90)" font-size="13.1" text-anchor="middle" font-family='"Liberation Sans", sans-serif' fill="#111">Sensitivity</text>
<rect x="549.10" y="527.8" width="26.64" height="96.9" fill="#f9f1bf"/>
<rect x="575.69" y="527.8" width="18.02" height="96.9" fill="#bcc5e2"/>
<rect x="593.66" y="527.8" width="32.30" height="96.9" fill="#edbcbd"/>
<rect x="625.91" y="527.8" width="14.08" height="96.9" fill="#d4e8c8"/>
<rect x="639.95" y="527.8" width="11.25" height="96.9" fill="#f5e0c0"/>
<rect x="651.15" y="527.8" width="15.81" height="96.9" fill="#f2dcdd"/>
<rect x="666.91" y="527.8" width="1.16" height="96.9" fill="#dae4f3"/>
<rect x="668.01" y="527.8" width="4.24" height="96.9" fill="#cdb9b6"/>
<line x1="550.30" y1="576.25" x2="550.30" y2="577.69" stroke="#8a8658" stroke-width="0.8" opacity="0.8"/>
<line x1="551.12" y1="576.25" x2="551.12" y2="577.50" stroke="#8a8658" stroke-width="0.8" opacity="0.8"/>
<line x1="556.04" y1="576.25" x2="556.04" y2="577.44" stroke="#8a8658" stroke-width="0.8" opacity="0.8"/>
<line x1="556.86" y1="576.25" x2="556.86" y2="577.29" stroke="#8a8658" stroke-width="0.8" opacity="0.8"/>
<line x1="560.96" y1="576.25" x2="560.96" y2="576.94" stroke="#8a8658" stroke-width="0.8" opacity="0.8"/>
<line x1="566.70" y1="576.25" x2="566.70" y2="577.42" stroke="#8a8658" stroke-width="0.8" opacity="0.8"/>
<line x1="567.52" y1="576.25" x2="567.52" y2="577.74" stroke="#8a8658" stroke-width="0.8" opacity="0.8"/>
<line x1="569.98" y1="576.25" x2="569.98" y2="576.98" stroke="#8a8658" stroke-width="0.8" opacity="0.8"/>
<line x1="575.72" y1="576.25" x2="575.72" y2="577.07" stroke="#3c4c8e" stroke-width="0.8" opacity="0.8"/>
<line x1="576.54" y1="576.25" x2="576.54" y2="575.49" stroke="#3c4c8e" stroke-width="0.8" opacity="0.8"/>
<line x1="577.36" y1="576.25" x2="577.36" y2="577.35" stroke="#3c4c8e" stroke-width="0.8" opacity="0.8"/>
<line x1="586.38" y1="576.25" x2="586.38" y2="577.31" stroke="#3c4c8e" stroke-width="0.8" opacity="0.8"/>
<line x1="587.20" y1="576.25" x2="587.20" y2="575.61" stroke="#3c4c8e" stroke-width="0.8" opacity="0.8"/>
<line x1="588.84" y1="576.25" x2="588.84" y2="576.66" stroke="#3c4c8e" stroke-width="0.8" opacity="0.8"/>
<line x1="590.48" y1="576.25" x2="590.48" y2="575.77" stroke="#3c4c8e" stroke-width="0.8" opacity="0.8"/>
<line x1="594.58" y1="576.25" x2="594.58" y2="576.76" stroke="#6e2444" stroke-width="0.8" opacity="0.8"/>
<line x1="597.04" y1="576.25" x2="597.04" y2="575.18" stroke="#6e2444" stroke-width="0.8" opacity="0.8"/>
<line x1="599.50" y1="576.25" x2="599.50" y2="577.00" stroke="#6e2444" stroke-width="0.8" opacity="0.8"/>
<line x1="600.32" y1="576.25" x2="600.32" y2="577.13" stroke="#6e2444" stroke-width="0.8" opacity="0.8"/>
<line x1="601.14" y1="576.25" x2="601.14" y2="575.13" stroke="#6e2444" stroke-width="0.8" opacity="0.8"/>
<line x1="601.96" y1="576.25" x2="601.96" y2="577.44" stroke="#6e2444" stroke-width="0.8" opacity="0.8"/>
<line x1="602.78" y1="576.25" x2="602.78" y2="577.05" stroke="#6e2444" stroke-width="0.8" opacity="0.8"/>
<line x1="604.42" y1="576.25" x2="604.42" y2="576.76" stroke="#6e2444" stroke-width="0.8" opacity="0.8"/>
<line x1="605.24" y1="576.25" x2="605.24" y2="575.08" stroke="#6e2444" stroke-width="0.8" opacity="0.8"/>
<line x1="606.06" y1="576.25" x2="606.06" y2="576.96" stroke="#6e2444" stroke-width="0.8" opacity="0.8"/>
<line x1="606.88" y1="576.25" x2="606.88" y2="577.33" stroke="#6e2444" stroke-width="0.8" opacity="0.8"/>
<line x1="607.70" y1="576.25" x2="607.70" y2="575.82" stroke="#6e2444" stroke-width="0.8" opacity="0.8"/>
<line x1="608.52" y1="576.25" x2="608.52" y2="577.36" stroke="#6e2444" stroke-width="0.8" opacity="0.8"/>
<line x1="609.34" y1="576.25" x2="609.34" y2="576.86" stroke="#6e2444" stroke-width="0.8" opacity="0.8"/>
<line x1="612.62" y1="576.25" x2="612.62" y2="575.07" stroke="#6e2444" stroke-width="0.8" opacity="0.8"/>
<line x1="613.44" y1="576.25" x2="613.44" y2="576.88" stroke="#6e2444" stroke-width="0.8" opacity="0.8"/>
<line x1="614.26" y1="576.25" x2="614.26" y2="577.37" stroke="#6e2444" stroke-width="0.8" opacity="0.8"/>
<line x1="615.08" y1="576.25" x2="615.08" y2="576.86" stroke="#6e2444" stroke-width="0.8" opacity="0.8"/>
<line x1="617.54" y1="576.25" x2="617.54" y2="577.38" stroke="#6e2444" stroke-width="0.8" opacity="0.8"/>
<line x1="618.36" y1="576.25" x2="618.36" y2="576.87" stroke="#6e2444" stroke-width="0.8" opacity="0.8"/>
<line x1="619.18" y1="576.25" x2="619.18" y2="576.90" stroke="#6e2444" stroke-width="0.8" opacity="0.8"/>
<line x1="620.82" y1="576.25" x2="620.82" y2="577.34" stroke="#6e2444" stroke-width="0.8" opacity="0.8"/>
<line x1="624.10" y1="576.25" x2="624.10" y2="575.28" stroke="#6e2444" stroke-width="0.8" opacity="0.8"/>
<line x1="549.1" y1="576.2" x2="672.2" y2="576.2" stroke="#5a5a5a" stroke-width="0.7" />
<line x1="551.00" y1="576.25" x2="551.00" y2="574.43" stroke="#8a8658" stroke-width="0.9"/>
<line x1="552.00" y1="576.25" x2="552.00" y2="578.07" stroke="#8a8658" stroke-width="0.9"/>
<line x1="553.50" y1="576.25" x2="553.50" y2="573.83" stroke="#8a8658" stroke-width="0.9"/>
<line x1="555.00" y1="576.25" x2="555.00" y2="577.46" stroke="#8a8658" stroke-width="0.9"/>
<line x1="557.00" y1="576.25" x2="557.00" y2="574.43" stroke="#8a8658" stroke-width="0.9"/>
<line x1="558.50" y1="576.25" x2="558.50" y2="578.07" stroke="#8a8658" stroke-width="0.9"/>
<line x1="560.00" y1="576.25" x2="560.00" y2="575.04" stroke="#8a8658" stroke-width="0.9"/>
<line x1="562.00" y1="576.25" x2="562.00" y2="577.46" stroke="#8a8658" stroke-width="0.9"/>
<line x1="564.00" y1="576.25" x2="564.00" y2="575.28" stroke="#8a8658" stroke-width="0.9"/>
<line x1="566.00" y1="576.25" x2="566.00" y2="577.70" stroke="#8a8658" stroke-width="0.9"/>
<line x1="568.00" y1="576.25" x2="568.00" y2="575.04" stroke="#8a8658" stroke-width="0.9"/>
<line x1="570.00" y1="576.25" x2="570.00" y2="578.07" stroke="#8a8658" stroke-width="0.9"/>
<line x1="572.00" y1="576.25" x2="572.00" y2="574.07" stroke="#8a8658" stroke-width="0.9"/>
<line x1="573.50" y1="576.25" x2="573.50" y2="577.46" stroke="#8a8658" stroke-width="0.9"/>
<line x1="580.50" y1="576.25" x2="580.50" y2="571.40" stroke="#3c4c8e" stroke-width="0.9"/>
<line x1="582.70" y1="576.25" x2="582.70" y2="577.46" stroke="#3c4c8e" stroke-width="0.9"/>
<line x1="584.90" y1="576.25" x2="584.90" y2="580.49" stroke="#3c4c8e" stroke-width="0.9"/>
<line x1="585.90" y1="576.25" x2="585.90" y2="586.55" stroke="#3c4c8e" stroke-width="0.9"/>
<line x1="587.80" y1="576.25" x2="587.80" y2="552.02" stroke="#3c4c8e" stroke-width="0.9"/>
<line x1="589.20" y1="576.25" x2="589.20" y2="581.70" stroke="#3c4c8e" stroke-width="0.9"/>
<line x1="590.40" y1="576.25" x2="590.40" y2="565.35" stroke="#3c4c8e" stroke-width="0.9"/>
<line x1="594.30" y1="576.25" x2="594.30" y2="581.10" stroke="#6e2444" stroke-width="0.9"/>
<line x1="595.40" y1="576.25" x2="595.40" y2="592.00" stroke="#6e2444" stroke-width="0.9"/>
<line x1="596.90" y1="576.25" x2="596.90" y2="584.73" stroke="#6e2444" stroke-width="0.9"/>
<line x1="597.90" y1="576.25" x2="597.90" y2="582.31" stroke="#6e2444" stroke-width="0.9"/>
<line x1="598.90" y1="576.25" x2="598.90" y2="565.35" stroke="#6e2444" stroke-width="1.4"/>
<line x1="599.60" y1="576.25" x2="599.60" y2="542.33" stroke="#6e2444" stroke-width="0.9"/>
<line x1="602.20" y1="576.25" x2="602.20" y2="573.83" stroke="#6e2444" stroke-width="0.9"/>
<line x1="603.20" y1="576.25" x2="603.20" y2="579.88" stroke="#6e2444" stroke-width="0.9"/>
<line x1="604.40" y1="576.25" x2="604.40" y2="585.94" stroke="#6e2444" stroke-width="0.9"/>
<line x1="605.50" y1="576.25" x2="605.50" y2="567.17" stroke="#6e2444" stroke-width="0.9"/>
<line x1="606.50" y1="576.25" x2="606.50" y2="616.22" stroke="#6e2444" stroke-width="0.9"/>
<line x1="607.60" y1="576.25" x2="607.60" y2="544.76" stroke="#6e2444" stroke-width="0.9"/>
<line x1="609.00" y1="576.25" x2="609.00" y2="575.04" stroke="#6e2444" stroke-width="0.9"/>
<rect x="549.1" y="527.8" width="123.1" height="96.9" fill="none" stroke="#3a3a3a" stroke-width="0.9"/>
<line x1="549.1" y1="527.8" x2="550.6" y2="527.8" stroke="#3a3a3a" stroke-width="0.7" />
<line x1="670.7" y1="527.8" x2="672.2" y2="527.8" stroke="#3a3a3a" stroke-width="0.7" />
<text x="545.7" y="531.0" font-size="9.9" font-weight="normal" text-anchor="end" fill="#111" font-family='"Liberation Sans", sans-serif' >40</text>
<line x1="549.1" y1="552.0" x2="550.6" y2="552.0" stroke="#3a3a3a" stroke-width="0.7" />
<line x1="670.7" y1="552.0" x2="672.2" y2="552.0" stroke="#3a3a3a" stroke-width="0.7" />
<text x="545.7" y="555.2" font-size="9.9" font-weight="normal" text-anchor="end" fill="#111" font-family='"Liberation Sans", sans-serif' >20</text>
<line x1="549.1" y1="576.2" x2="550.6" y2="576.2" stroke="#3a3a3a" stroke-width="0.7" />
<line x1="670.7" y1="576.2" x2="672.2" y2="576.2" stroke="#3a3a3a" stroke-width="0.7" />
<text x="545.7" y="579.5" font-size="9.9" font-weight="normal" text-anchor="end" fill="#111" font-family='"Liberation Sans", sans-serif' >0</text>
<line x1="549.1" y1="600.5" x2="550.6" y2="600.5" stroke="#3a3a3a" stroke-width="0.7" />
<line x1="670.7" y1="600.5" x2="672.2" y2="600.5" stroke="#3a3a3a" stroke-width="0.7" />
<text x="545.7" y="603.7" font-size="9.9" font-weight="normal" text-anchor="end" fill="#111" font-family='"Liberation Sans", sans-serif' >-20</text>
<line x1="549.1" y1="624.7" x2="550.6" y2="624.7" stroke="#3a3a3a" stroke-width="0.7" />
<line x1="670.7" y1="624.7" x2="672.2" y2="624.7" stroke="#3a3a3a" stroke-width="0.7" />
<text x="545.7" y="627.9" font-size="9.9" font-weight="normal" text-anchor="end" fill="#111" font-family='"Liberation Sans", sans-serif' >-40</text>
<text x="575.7" y="553.7" font-size="10.0" font-weight="normal" text-anchor="start" fill="#111" font-family='"Liberation Sans", sans-serif' >50</text>
<text x="588.3" y="558.8" font-size="10.0" font-weight="normal" text-anchor="start" fill="#111" font-family='"Liberation Sans", sans-serif' >65</text>
<text x="596.9" y="539.6" font-size="10.0" font-weight="normal" text-anchor="start" fill="#111" font-family='"Liberation Sans", sans-serif' >66</text>
<text x="608.5" y="551.9" font-size="10.0" font-weight="normal" text-anchor="start" fill="#111" font-family='"Liberation Sans", sans-serif' >77</text>
<text x="609.7" y="620.6" font-size="10.0" font-weight="normal" text-anchor="start" fill="#111" font-family='"Liberation Sans", sans-serif' >76</text>
<rect x="490.6" y="638.4" width="23.0" height="17.2" fill="#f9f1bf"/>
<text x="502.1" y="650.3" font-size="7.9" font-weight="normal" text-anchor="middle" fill="#262626" font-family='"Liberation Sans", sans-serif' >CBM</text>
<rect x="513.5" y="638.4" width="22.8" height="17.2" fill="#bcc5e2"/>
<text x="524.9" y="650.3" font-size="7.9" font-weight="normal" text-anchor="middle" fill="#262626" font-family='"Liberation Sans", sans-serif' >TAK1</text>
<rect x="536.2" y="638.4" width="23.1" height="17.2" fill="#edbcbd"/>
<text x="547.7" y="650.3" font-size="7.9" font-weight="normal" text-anchor="middle" fill="#262626" font-family='"Liberation Sans", sans-serif' >IKK</text>
<rect x="559.2" y="638.4" width="23.1" height="17.2" fill="#d4e8c8"/>
<text x="570.7" y="650.3" font-size="7.9" font-weight="normal" text-anchor="middle" fill="#262626" font-family='"Liberation Sans", sans-serif' >IκBα</text>
<rect x="582.2" y="638.4" width="22.7" height="17.2" fill="#f5e0c0"/>
<text x="593.5" y="650.3" font-size="7.9" font-weight="normal" text-anchor="middle" fill="#262626" font-family='"Liberation Sans", sans-serif' >IκBβ</text>
<rect x="604.8" y="638.4" width="22.0" height="17.2" fill="#f2dcdd"/>
<text x="615.8" y="650.3" font-size="7.9" font-weight="normal" text-anchor="middle" fill="#262626" font-family='"Liberation Sans", sans-serif' >IκBε</text>
<rect x="626.7" y="638.4" width="23.2" height="17.2" fill="#dae4f3"/>
<text x="638.2" y="650.3" font-size="7.9" font-weight="normal" text-anchor="middle" fill="#262626" font-family='"Liberation Sans", sans-serif' >NFκB</text>
<rect x="649.8" y="638.4" width="23.0" height="17.2" fill="#cdb9b6"/>
<text x="661.2" y="650.3" font-size="7.9" font-weight="normal" text-anchor="middle" fill="#262626" font-family='"Liberation Sans", sans-serif' >A20</text>
</svg></body></html>
